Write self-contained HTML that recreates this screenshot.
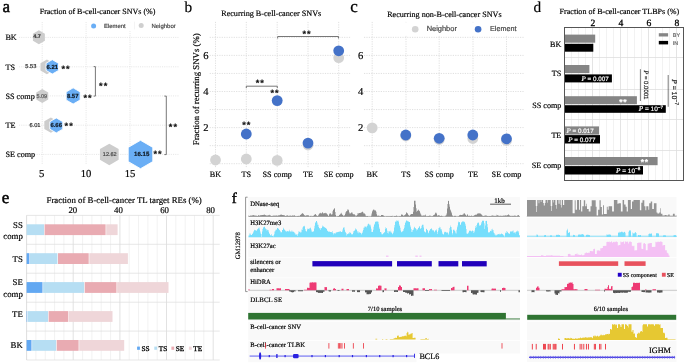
<!DOCTYPE html>
<html><head><meta charset="utf-8"><title>figure</title><style>
html,body{margin:0;padding:0;background:#fff;width:685px;height:364px;overflow:hidden}
svg{display:block;will-change:transform;text-rendering:geometricPrecision}
</style></head><body>
<svg font-family="Liberation Serif" width="685" height="364" viewBox="0 0 685 364">
<text stroke="#000" x="2.6" y="11.6" font-size="17" stroke-width="0.5" font-family="Liberation Serif">a</text>
<text stroke="#000" stroke-width="0.18" x="184.6" y="11.6" font-size="15.3" font-family="Liberation Serif">b</text>
<text stroke="#000" x="350.2" y="11.9" font-size="17" stroke-width="0.3" font-family="Liberation Serif">c</text>
<text stroke="#000" stroke-width="0.18" x="533.4" y="11.6" font-size="15.3" font-family="Liberation Serif">d</text>
<text stroke="#000" x="1.7" y="203.2" font-size="17" stroke-width="0.5" font-family="Liberation Serif">e</text>
<text stroke="#000" x="231.8" y="202.7" font-size="15" stroke-width="0.45" font-family="Liberation Serif">f</text>
<text stroke="#000" stroke-width="0.18" x="39.7" y="14.2" font-size="8.03" font-family="Liberation Serif">Fraction of B-cell-cancer SNVs (%)</text>
<line x1="42.2" y1="22" x2="42.2" y2="164.5" stroke="#dcdcdc" stroke-width="0.7" stroke-dasharray="1.1,1.1"/>
<line x1="86.1" y1="22" x2="86.1" y2="164.5" stroke="#dcdcdc" stroke-width="0.7" stroke-dasharray="1.1,1.1"/>
<line x1="130.0" y1="22" x2="130.0" y2="164.5" stroke="#dcdcdc" stroke-width="0.7" stroke-dasharray="1.1,1.1"/>
<line x1="19" y1="37.4" x2="179" y2="37.4" stroke="#dcdcdc" stroke-width="0.7" stroke-dasharray="1.1,1.1"/>
<line x1="19" y1="66.8" x2="179" y2="66.8" stroke="#dcdcdc" stroke-width="0.7" stroke-dasharray="1.1,1.1"/>
<line x1="19" y1="95.9" x2="179" y2="95.9" stroke="#dcdcdc" stroke-width="0.7" stroke-dasharray="1.1,1.1"/>
<line x1="19" y1="125.2" x2="179" y2="125.2" stroke="#dcdcdc" stroke-width="0.7" stroke-dasharray="1.1,1.1"/>
<line x1="19" y1="154.4" x2="179" y2="154.4" stroke="#dcdcdc" stroke-width="0.7" stroke-dasharray="1.1,1.1"/>
<rect x="89" y="22.2" width="91" height="8.6" fill="#fff"/>
<line x1="134.5" y1="21.6" x2="134.5" y2="29.4" stroke="#ececec" stroke-width="0.6"/>
<circle cx="93.6" cy="26" r="2.5" fill="#6aaef5"/>
<text stroke="#444" stroke-width="0.18" x="104" y="28" font-size="5.9" fill="#444" font-family="Liberation Sans">Element</text>
<circle cx="141.2" cy="25.6" r="2.5" fill="#cfcfcf"/>
<text stroke="#444" stroke-width="0.18" x="151.4" y="28" font-size="6.0" fill="#444" font-family="Liberation Sans">Neighbor</text>
<text stroke="#000" stroke-width="0.18" x="5.4" y="40.3" font-size="8.2" font-family="Liberation Serif">BK</text>
<text stroke="#000" stroke-width="0.18" x="5.4" y="69.7" font-size="8.2" font-family="Liberation Serif">TS</text>
<text stroke="#000" stroke-width="0.18" x="5.4" y="98.8" font-size="8.2" font-family="Liberation Serif">SS comp</text>
<text stroke="#000" stroke-width="0.18" x="5.4" y="128.1" font-size="8.2" font-family="Liberation Serif">TE</text>
<text stroke="#000" stroke-width="0.18" x="5.4" y="157.3" font-size="8.2" font-family="Liberation Serif">SE comp</text>
<polygon points="38.90,30.35 44.88,33.80 44.88,40.70 38.90,44.15 32.92,40.70 32.92,33.80" fill="#cdcdcd"/>
<polygon points="46.90,59.45 53.31,63.15 53.31,70.55 46.90,74.25 40.49,70.55 40.49,63.15" fill="#cdcdcd"/>
<polygon points="52.30,59.65 58.54,63.25 58.54,70.45 52.30,74.05 46.06,70.45 46.06,63.25" fill="#6aaef5" stroke="#fff" stroke-width="0.9"/>
<polygon points="42.25,89.10 48.23,92.55 48.23,99.45 42.25,102.90 36.27,99.45 36.27,92.55" fill="#cdcdcd"/>
<polygon points="73.15,87.85 80.16,91.90 80.16,100.00 73.15,104.05 66.14,100.00 66.14,91.90" fill="#6aaef5" stroke="#fff" stroke-width="0.9"/>
<polygon points="50.90,117.50 57.48,121.30 57.48,128.90 50.90,132.70 44.32,128.90 44.32,121.30" fill="#cdcdcd"/>
<polygon points="56.30,117.90 62.80,121.65 62.80,129.15 56.30,132.90 49.80,129.15 49.80,121.65" fill="#6aaef5" stroke="#fff" stroke-width="0.9"/>
<polygon points="109.30,143.65 118.65,149.05 118.65,159.85 109.30,165.25 99.95,159.85 99.95,149.05" fill="#cdcdcd"/>
<polygon points="140.50,140.30 152.80,147.40 152.80,161.60 140.50,168.70 128.20,161.60 128.20,147.40" fill="#6aaef5" stroke="#fff" stroke-width="0.9"/>
<text stroke="#3a3a3a" stroke-width="0.18" x="33.2" y="38.0" font-size="5.5" fill="#3a3a3a" text-anchor="start" font-weight="bold" font-family="Liberation Sans">4.7</text>
<text stroke="#2a2a2a" stroke-width="0.18" x="36.3" y="68.2" font-size="5.7" fill="#2a2a2a" text-anchor="end" font-family="Liberation Sans">5.53</text>
<text stroke="#101820" stroke-width="0.18" x="52.25" y="68.8" font-size="5.9" fill="#101820" text-anchor="middle" font-weight="bold" font-family="Liberation Sans">6.21</text>
<text stroke="#555" stroke-width="0.18" x="41.8" y="97.6" font-size="5.5" fill="#555" text-anchor="middle" font-family="Liberation Sans">5.09</text>
<text stroke="#101820" stroke-width="0.18" x="72.7" y="97.8" font-size="5.9" fill="#101820" text-anchor="middle" font-weight="bold" font-family="Liberation Sans">8.57</text>
<text stroke="#2a2a2a" stroke-width="0.18" x="40.5" y="126.6" font-size="5.7" fill="#2a2a2a" text-anchor="end" font-family="Liberation Sans">6.01</text>
<text stroke="#101820" stroke-width="0.18" x="56.2" y="127.3" font-size="5.9" fill="#101820" text-anchor="middle" font-weight="bold" font-family="Liberation Sans">6.66</text>
<text stroke="#444" stroke-width="0.18" x="109.75" y="155.9" font-size="5.5" fill="#444" text-anchor="middle" font-family="Liberation Sans">12.62</text>
<text stroke="#101820" stroke-width="0.18" x="141.65" y="156.4" font-size="6.1" fill="#101820" text-anchor="middle" font-weight="bold" font-family="Liberation Sans">16.15</text>
<text stroke="#111" stroke-width="0.18" x="66.1" y="72.123" font-size="9.2" font-weight="bold" fill="#111" text-anchor="middle" letter-spacing="1.0" font-family="Liberation Sans">**</text>
<text stroke="#111" stroke-width="0.18" x="88.1" y="100.82300000000001" font-size="9.2" font-weight="bold" fill="#111" text-anchor="middle" letter-spacing="1.0" font-family="Liberation Sans">**</text>
<text stroke="#111" stroke-width="0.18" x="69.2" y="128.623" font-size="9.2" font-weight="bold" fill="#111" text-anchor="middle" letter-spacing="1.0" font-family="Liberation Sans">**</text>
<text stroke="#111" stroke-width="0.18" x="158.1" y="157.123" font-size="9.2" font-weight="bold" fill="#111" text-anchor="middle" letter-spacing="1.0" font-family="Liberation Sans">**</text>
<text stroke="#111" stroke-width="0.18" x="103.7" y="88.82300000000001" font-size="9.2" font-weight="bold" fill="#111" text-anchor="middle" letter-spacing="1.0" font-family="Liberation Sans">**</text>
<text stroke="#111" stroke-width="0.18" x="173.4" y="129.623" font-size="9.2" font-weight="bold" fill="#111" text-anchor="middle" letter-spacing="1.0" font-family="Liberation Sans">**</text>
<path d="M93.6,66.6 H95.4 V96.1 H93.6" fill="none" stroke="#555" stroke-width="0.8"/>
<path d="M164.4,96.1 H166.3 V154.6 H164.4" fill="none" stroke="#555" stroke-width="0.8"/>
<text stroke="#000" stroke-width="0.18" x="41.6" y="177.3" font-size="10.6" text-anchor="middle" font-family="Liberation Serif">5</text>
<text stroke="#000" stroke-width="0.18" x="86.1" y="177.3" font-size="10.6" text-anchor="middle" font-family="Liberation Serif">10</text>
<text stroke="#000" stroke-width="0.18" x="130.0" y="177.3" font-size="10.6" text-anchor="middle" font-family="Liberation Serif">15</text>
<text stroke="#000" stroke-width="0.18" x="221.2" y="16.1" font-size="8.16" font-family="Liberation Serif">Recurring B-cell-cancer SNVs</text>
<line x1="209.7" y1="163.70" x2="350.4" y2="163.70" stroke="#d8d8d8" stroke-width="0.8" stroke-dasharray="1.2,1.2"/>
<line x1="209.7" y1="145.65" x2="350.4" y2="145.65" stroke="#d8d8d8" stroke-width="0.8" stroke-dasharray="1.2,1.2"/>
<line x1="209.7" y1="127.60" x2="350.4" y2="127.60" stroke="#d8d8d8" stroke-width="0.8" stroke-dasharray="1.2,1.2"/>
<line x1="209.7" y1="109.55" x2="350.4" y2="109.55" stroke="#d8d8d8" stroke-width="0.8" stroke-dasharray="1.2,1.2"/>
<line x1="209.7" y1="91.50" x2="350.4" y2="91.50" stroke="#d8d8d8" stroke-width="0.8" stroke-dasharray="1.2,1.2"/>
<line x1="209.7" y1="73.45" x2="350.4" y2="73.45" stroke="#d8d8d8" stroke-width="0.8" stroke-dasharray="1.2,1.2"/>
<line x1="209.7" y1="55.40" x2="350.4" y2="55.40" stroke="#d8d8d8" stroke-width="0.8" stroke-dasharray="1.2,1.2"/>
<line x1="209.7" y1="37.35" x2="350.4" y2="37.35" stroke="#d8d8d8" stroke-width="0.8" stroke-dasharray="1.2,1.2"/>
<line x1="215.5" y1="21.9" x2="215.5" y2="167.7" stroke="#d8d8d8" stroke-width="0.8" stroke-dasharray="1.2,1.2"/>
<line x1="246.3" y1="21.9" x2="246.3" y2="167.7" stroke="#d8d8d8" stroke-width="0.8" stroke-dasharray="1.2,1.2"/>
<line x1="277.2" y1="21.9" x2="277.2" y2="167.7" stroke="#d8d8d8" stroke-width="0.8" stroke-dasharray="1.2,1.2"/>
<line x1="308.0" y1="21.9" x2="308.0" y2="167.7" stroke="#d8d8d8" stroke-width="0.8" stroke-dasharray="1.2,1.2"/>
<line x1="338.7" y1="21.9" x2="338.7" y2="167.7" stroke="#d8d8d8" stroke-width="0.8" stroke-dasharray="1.2,1.2"/>
<text stroke="#000" stroke-width="0.18" x="205.9" y="131.2" font-size="10.6" text-anchor="middle" font-family="Liberation Serif">2</text>
<text stroke="#000" stroke-width="0.18" x="205.9" y="95.1" font-size="10.6" text-anchor="middle" font-family="Liberation Serif">4</text>
<text stroke="#000" stroke-width="0.18" x="205.9" y="59.0" font-size="10.6" text-anchor="middle" font-family="Liberation Serif">6</text>
<text stroke="#000" stroke-width="0.18" transform="translate(199,145.2) rotate(-90)" x="0" y="0" font-size="8.8" font-family="Liberation Serif">Fraction of recurring SNVs (%)</text>
<text stroke="#000" stroke-width="0.18" x="215.5" y="176.6" font-size="8.2" text-anchor="middle" font-family="Liberation Serif">BK</text>
<text stroke="#000" stroke-width="0.18" x="246.3" y="176.6" font-size="8.2" text-anchor="middle" font-family="Liberation Serif">TS</text>
<text stroke="#000" stroke-width="0.18" x="277.2" y="176.6" font-size="8.2" text-anchor="middle" font-family="Liberation Serif">SS comp</text>
<text stroke="#000" stroke-width="0.18" x="308.0" y="176.6" font-size="8.2" text-anchor="middle" font-family="Liberation Serif">TE</text>
<text stroke="#000" stroke-width="0.18" x="338.7" y="176.6" font-size="8.2" text-anchor="middle" font-family="Liberation Serif">SE comp</text>
<circle cx="215.5" cy="160" r="5.4" fill="#d3d3d3"/>
<circle cx="246.3" cy="159" r="5.4" fill="#d3d3d3"/>
<circle cx="277.2" cy="160.4" r="5.4" fill="#d3d3d3"/>
<circle cx="308" cy="145" r="5.4" fill="#d3d3d3"/>
<circle cx="338.7" cy="57.7" r="5.4" fill="#d3d3d3"/>
<circle cx="246.3" cy="134" r="5.4" fill="#4472c8"/>
<circle cx="277.2" cy="100.6" r="5.4" fill="#4472c8"/>
<circle cx="308" cy="143.1" r="5.4" fill="#4472c8"/>
<circle cx="338.7" cy="50.8" r="5.4" fill="#4472c8"/>
<text stroke="#111" stroke-width="0.18" x="246.8" y="128.123" font-size="9.2" font-weight="bold" fill="#111" text-anchor="middle" letter-spacing="1.0" font-family="Liberation Sans">**</text>
<text stroke="#111" stroke-width="0.18" x="275.0" y="96.123" font-size="9.2" font-weight="bold" fill="#111" text-anchor="middle" letter-spacing="1.0" font-family="Liberation Sans">**</text>
<path d="M246.3,88.2 V86.2 H277.3 V88.2" fill="none" stroke="#555" stroke-width="0.8"/>
<text stroke="#111" stroke-width="0.18" x="260.3" y="85.923" font-size="9.2" font-weight="bold" fill="#111" text-anchor="middle" letter-spacing="1.0" font-family="Liberation Sans">**</text>
<path d="M277.7,38.5 V36.5 H338.5 V38.5" fill="none" stroke="#555" stroke-width="0.8"/>
<text stroke="#111" stroke-width="0.18" x="307.0" y="37.323" font-size="9.2" font-weight="bold" fill="#111" text-anchor="middle" letter-spacing="1.0" font-family="Liberation Sans">**</text>
<text stroke="#000" stroke-width="0.18" x="387.2" y="16.9" font-size="8.12" font-family="Liberation Serif">Recurring non-B-cell-cancer SNVs</text>
<line x1="364" y1="163.70" x2="523.8" y2="163.70" stroke="#d8d8d8" stroke-width="0.8" stroke-dasharray="1.2,1.2"/>
<line x1="364" y1="145.65" x2="523.8" y2="145.65" stroke="#d8d8d8" stroke-width="0.8" stroke-dasharray="1.2,1.2"/>
<line x1="364" y1="127.60" x2="523.8" y2="127.60" stroke="#d8d8d8" stroke-width="0.8" stroke-dasharray="1.2,1.2"/>
<line x1="364" y1="109.55" x2="523.8" y2="109.55" stroke="#d8d8d8" stroke-width="0.8" stroke-dasharray="1.2,1.2"/>
<line x1="364" y1="91.50" x2="523.8" y2="91.50" stroke="#d8d8d8" stroke-width="0.8" stroke-dasharray="1.2,1.2"/>
<line x1="364" y1="73.45" x2="523.8" y2="73.45" stroke="#d8d8d8" stroke-width="0.8" stroke-dasharray="1.2,1.2"/>
<line x1="364" y1="55.40" x2="523.8" y2="55.40" stroke="#d8d8d8" stroke-width="0.8" stroke-dasharray="1.2,1.2"/>
<line x1="364" y1="37.35" x2="523.8" y2="37.35" stroke="#d8d8d8" stroke-width="0.8" stroke-dasharray="1.2,1.2"/>
<line x1="372.2" y1="21.9" x2="372.2" y2="167.7" stroke="#d8d8d8" stroke-width="0.8" stroke-dasharray="1.2,1.2"/>
<line x1="406.0" y1="21.9" x2="406.0" y2="167.7" stroke="#d8d8d8" stroke-width="0.8" stroke-dasharray="1.2,1.2"/>
<line x1="439.2" y1="21.9" x2="439.2" y2="167.7" stroke="#d8d8d8" stroke-width="0.8" stroke-dasharray="1.2,1.2"/>
<line x1="473.0" y1="21.9" x2="473.0" y2="167.7" stroke="#d8d8d8" stroke-width="0.8" stroke-dasharray="1.2,1.2"/>
<line x1="506.5" y1="21.9" x2="506.5" y2="167.7" stroke="#d8d8d8" stroke-width="0.8" stroke-dasharray="1.2,1.2"/>
<text stroke="#000" stroke-width="0.18" x="360.7" y="131.2" font-size="10.6" text-anchor="middle" font-family="Liberation Serif">2</text>
<text stroke="#000" stroke-width="0.18" x="360.7" y="95.1" font-size="10.6" text-anchor="middle" font-family="Liberation Serif">4</text>
<text stroke="#000" stroke-width="0.18" x="360.7" y="59.0" font-size="10.6" text-anchor="middle" font-family="Liberation Serif">6</text>
<text stroke="#000" stroke-width="0.18" x="372.2" y="176.6" font-size="8.2" text-anchor="middle" font-family="Liberation Serif">BK</text>
<text stroke="#000" stroke-width="0.18" x="406.0" y="176.6" font-size="8.2" text-anchor="middle" font-family="Liberation Serif">TS</text>
<text stroke="#000" stroke-width="0.18" x="439.2" y="176.6" font-size="8.2" text-anchor="middle" font-family="Liberation Serif">SS comp</text>
<text stroke="#000" stroke-width="0.18" x="473.0" y="176.6" font-size="8.2" text-anchor="middle" font-family="Liberation Serif">TE</text>
<text stroke="#000" stroke-width="0.18" x="506.5" y="176.6" font-size="8.2" text-anchor="middle" font-family="Liberation Serif">SE comp</text>
<rect x="404.5" y="22.4" width="119.5" height="12.6" fill="#fff"/>
<circle cx="415.2" cy="29.2" r="3.3" fill="#d3d3d3"/>
<text stroke="#444" stroke-width="0.18" x="426.7" y="31.3" font-size="7.45" fill="#444" font-family="Liberation Sans">Neighbor</text>
<circle cx="478.1" cy="29.2" r="3.3" fill="#4472c8"/>
<text stroke="#444" stroke-width="0.18" x="490" y="31.3" font-size="7.22" fill="#444" font-family="Liberation Sans">Element</text>
<circle cx="372.2" cy="127.9" r="5.4" fill="#d3d3d3"/>
<circle cx="405.8" cy="136" r="5.4" fill="#d3d3d3"/>
<circle cx="439.2" cy="139.5" r="5.4" fill="#d3d3d3"/>
<circle cx="472.8" cy="138.5" r="5.4" fill="#d3d3d3"/>
<circle cx="506.5" cy="140.5" r="5.4" fill="#d3d3d3"/>
<circle cx="405.8" cy="135" r="5.4" fill="#4472c8"/>
<circle cx="439.2" cy="138.3" r="5.4" fill="#4472c8"/>
<circle cx="472.8" cy="135" r="5.4" fill="#4472c8"/>
<circle cx="506.5" cy="138.8" r="5.4" fill="#4472c8"/>
<text stroke="#000" stroke-width="0.18" x="559.6" y="13.8" font-size="8.05" font-family="Liberation Serif">Fraction of B-cell-cancer TLBPs (%)</text>
<text stroke="#000" x="592.8" y="26.4" font-size="9.6" stroke-width="0.3" text-anchor="middle" font-family="Liberation Serif">2</text>
<text stroke="#000" x="620.8" y="26.4" font-size="9.6" stroke-width="0.3" text-anchor="middle" font-family="Liberation Serif">4</text>
<text stroke="#000" x="648.8" y="26.4" font-size="9.6" stroke-width="0.3" text-anchor="middle" font-family="Liberation Serif">6</text>
<text stroke="#000" x="676.8" y="26.4" font-size="9.6" stroke-width="0.3" text-anchor="middle" font-family="Liberation Serif">8</text>
<line x1="571.5" y1="28" x2="571.5" y2="180" stroke="#efefef" stroke-width="0.8"/>
<line x1="578.5" y1="28" x2="578.5" y2="180" stroke="#efefef" stroke-width="0.8"/>
<line x1="585.5" y1="28" x2="585.5" y2="180" stroke="#efefef" stroke-width="0.8"/>
<line x1="592.5" y1="28" x2="592.5" y2="180" stroke="#dddddd" stroke-width="0.8"/>
<line x1="599.5" y1="28" x2="599.5" y2="180" stroke="#efefef" stroke-width="0.8"/>
<line x1="606.5" y1="28" x2="606.5" y2="180" stroke="#efefef" stroke-width="0.8"/>
<line x1="613.5" y1="28" x2="613.5" y2="180" stroke="#efefef" stroke-width="0.8"/>
<line x1="620.5" y1="28" x2="620.5" y2="180" stroke="#dddddd" stroke-width="0.8"/>
<line x1="627.5" y1="28" x2="627.5" y2="180" stroke="#efefef" stroke-width="0.8"/>
<line x1="634.5" y1="28" x2="634.5" y2="180" stroke="#efefef" stroke-width="0.8"/>
<line x1="641.5" y1="28" x2="641.5" y2="180" stroke="#efefef" stroke-width="0.8"/>
<line x1="648.5" y1="28" x2="648.5" y2="180" stroke="#dddddd" stroke-width="0.8"/>
<line x1="655.5" y1="28" x2="655.5" y2="180" stroke="#efefef" stroke-width="0.8"/>
<line x1="662.5" y1="28" x2="662.5" y2="180" stroke="#efefef" stroke-width="0.8"/>
<line x1="669.5" y1="28" x2="669.5" y2="180" stroke="#efefef" stroke-width="0.8"/>
<line x1="676.5" y1="28" x2="676.5" y2="180" stroke="#dddddd" stroke-width="0.8"/>
<line x1="565" y1="57.5" x2="683" y2="57.5" stroke="#dedede" stroke-width="0.8"/>
<line x1="565" y1="89.5" x2="683" y2="89.5" stroke="#dedede" stroke-width="0.8"/>
<line x1="565" y1="119.5" x2="683" y2="119.5" stroke="#dedede" stroke-width="0.8"/>
<line x1="565" y1="150.5" x2="683" y2="150.5" stroke="#dedede" stroke-width="0.8"/>
<rect x="564.8" y="34.6" width="30.4" height="8.1" fill="#858585"/>
<rect x="564.8" y="43.8" width="28.5" height="7.9" fill="#000"/>
<rect x="564.8" y="65.0" width="24.6" height="8.1" fill="#858585"/>
<rect x="564.8" y="74.4" width="47.1" height="8.0" fill="#000"/>
<rect x="564.8" y="96.2" width="72.1" height="8.0" fill="#858585"/>
<rect x="564.8" y="105.2" width="101.0" height="7.6" fill="#000"/>
<rect x="564.8" y="126.4" width="34.2" height="8.2" fill="#858585"/>
<rect x="564.8" y="135.1" width="35.2" height="8.4" fill="#000"/>
<rect x="564.8" y="157.0" width="92.8" height="8.2" fill="#858585"/>
<rect x="564.8" y="166.1" width="78.2" height="8.4" fill="#000"/>
<rect x="564.5" y="27.5" width="119" height="153" fill="none" stroke="#555" stroke-width="1"/>
<text stroke="#000" stroke-width="0.18" x="561.3" y="46.6" font-size="8.1" text-anchor="end" font-family="Liberation Serif">BK</text>
<text stroke="#000" stroke-width="0.18" x="561.3" y="75.9" font-size="8.1" text-anchor="end" font-family="Liberation Serif">TS</text>
<text stroke="#000" stroke-width="0.18" x="561.3" y="107.6" font-size="8.1" text-anchor="end" font-family="Liberation Serif">SS comp</text>
<text stroke="#000" stroke-width="0.18" x="561.3" y="137.8" font-size="8.1" text-anchor="end" font-family="Liberation Serif">TE</text>
<text stroke="#000" stroke-width="0.18" x="561.3" y="168.4" font-size="8.1" text-anchor="end" font-family="Liberation Serif">SE comp</text>
<text stroke="#fff" stroke-width="0.18" x="608.8" y="80.6" font-size="6.3" fill="#fff" text-anchor="end" font-family="Liberation Sans"><tspan font-style="italic" font-family="Liberation Serif" font-size="7.0">P</tspan> = 0.007</text>
<text stroke="#fff" stroke-width="0.18" x="593.8" y="132.8" font-size="6.3" fill="#fff" text-anchor="end" font-family="Liberation Sans"><tspan font-style="italic" font-family="Liberation Serif" font-size="7.0">P</tspan> = 0.017</text>
<text stroke="#fff" stroke-width="0.18" x="595.4" y="141.6" font-size="6.3" fill="#fff" text-anchor="end" font-family="Liberation Sans"><tspan font-style="italic" font-family="Liberation Serif" font-size="7.0">P</tspan> = 0.077</text>
<text stroke="#fff" stroke-width="0.18" x="663" y="111.3" font-size="6.5" fill="#fff" text-anchor="end" font-family="Liberation Sans"><tspan font-style="italic" font-size="7.2" font-family="Liberation Serif">P</tspan> = 10<tspan font-size="4.6" dy="-2.6">−7</tspan></text>
<text stroke="#fff" stroke-width="0.18" x="640.3" y="172.9" font-size="6.5" fill="#fff" text-anchor="end" font-family="Liberation Sans"><tspan font-style="italic" font-size="7.2" font-family="Liberation Serif">P</tspan> = 10<tspan font-size="4.6" dy="-2.6">−8</tspan></text>
<text stroke="#fff" stroke-width="0.18" x="623.15" y="104.57124999999999" font-size="8.5" font-weight="bold" fill="#fff" text-anchor="middle" letter-spacing="0.5" font-family="Liberation Sans">**</text>
<text stroke="#fff" stroke-width="0.18" x="644.65" y="165.37125" font-size="8.5" font-weight="bold" fill="#fff" text-anchor="middle" letter-spacing="0.5" font-family="Liberation Sans">**</text>
<rect x="658.8" y="33.2" width="9.3" height="3.3" fill="#858585"/>
<rect x="658.8" y="40.9" width="9.3" height="3.5" fill="#000"/>
<text stroke="#666" stroke-width="0.18" x="672.8" y="36.8" font-size="5.4" fill="#666" font-family="Liberation Sans">BY</text>
<text stroke="#666" stroke-width="0.18" x="672.8" y="44.5" font-size="5.4" fill="#666" font-family="Liberation Sans">IN</text>
<line x1="640.4" y1="69.2" x2="640.4" y2="101" stroke="#444" stroke-width="0.7"/>
<line x1="668.2" y1="75" x2="668.2" y2="106.8" stroke="#444" stroke-width="0.7"/>
<text stroke="#222" stroke-width="0.18" transform="translate(644.2,70.2) rotate(90)" font-size="6.0" fill="#222" font-family="Liberation Sans"><tspan font-style="italic" font-size="6.6" font-family="Liberation Serif">P</tspan> = 0.0001</text>
<text stroke="#222" stroke-width="0.18" transform="translate(672.1,79.2) rotate(90)" font-size="6.9" fill="#222" font-family="Liberation Sans"><tspan font-style="italic" font-size="7.4" font-family="Liberation Serif">P</tspan> = 10<tspan font-size="5.2" dy="-2.7">−7</tspan></text>
<text stroke="#000" stroke-width="0.18" x="46.5" y="203.3" font-size="8.8" font-family="Liberation Serif">Fraction of B-cell-cancer TL target REs (%)</text>
<text stroke="#000" stroke-width="0.18" x="72.8" y="213.2" font-size="8.8" text-anchor="middle" font-family="Liberation Serif">20</text>
<text stroke="#000" stroke-width="0.18" x="118.5" y="213.2" font-size="8.8" text-anchor="middle" font-family="Liberation Serif">40</text>
<text stroke="#000" stroke-width="0.18" x="164.6" y="213.2" font-size="8.8" text-anchor="middle" font-family="Liberation Serif">60</text>
<text stroke="#000" stroke-width="0.18" x="210.6" y="213.2" font-size="8.8" text-anchor="middle" font-family="Liberation Serif">80</text>
<line x1="35.9" y1="215.4" x2="35.9" y2="360" stroke="#ececec" stroke-width="0.7"/>
<line x1="45.3" y1="215.4" x2="45.3" y2="360" stroke="#ececec" stroke-width="0.7"/>
<line x1="54.6" y1="215.4" x2="54.6" y2="360" stroke="#ececec" stroke-width="0.7"/>
<line x1="63.9" y1="215.4" x2="63.9" y2="360" stroke="#ececec" stroke-width="0.7"/>
<line x1="73.2" y1="215.4" x2="73.2" y2="360" stroke="#d6d6d6" stroke-width="0.7"/>
<line x1="82.6" y1="215.4" x2="82.6" y2="360" stroke="#ececec" stroke-width="0.7"/>
<line x1="91.9" y1="215.4" x2="91.9" y2="360" stroke="#ececec" stroke-width="0.7"/>
<line x1="101.2" y1="215.4" x2="101.2" y2="360" stroke="#ececec" stroke-width="0.7"/>
<line x1="110.6" y1="215.4" x2="110.6" y2="360" stroke="#ececec" stroke-width="0.7"/>
<line x1="119.9" y1="215.4" x2="119.9" y2="360" stroke="#d6d6d6" stroke-width="0.7"/>
<line x1="129.2" y1="215.4" x2="129.2" y2="360" stroke="#ececec" stroke-width="0.7"/>
<line x1="138.5" y1="215.4" x2="138.5" y2="360" stroke="#ececec" stroke-width="0.7"/>
<line x1="147.9" y1="215.4" x2="147.9" y2="360" stroke="#ececec" stroke-width="0.7"/>
<line x1="157.2" y1="215.4" x2="157.2" y2="360" stroke="#ececec" stroke-width="0.7"/>
<line x1="166.5" y1="215.4" x2="166.5" y2="360" stroke="#d6d6d6" stroke-width="0.7"/>
<line x1="175.8" y1="215.4" x2="175.8" y2="360" stroke="#ececec" stroke-width="0.7"/>
<line x1="185.2" y1="215.4" x2="185.2" y2="360" stroke="#ececec" stroke-width="0.7"/>
<line x1="194.5" y1="215.4" x2="194.5" y2="360" stroke="#ececec" stroke-width="0.7"/>
<line x1="203.8" y1="215.4" x2="203.8" y2="360" stroke="#ececec" stroke-width="0.7"/>
<line x1="213.2" y1="215.4" x2="213.2" y2="360" stroke="#d6d6d6" stroke-width="0.7"/>
<line x1="26.6" y1="215.4" x2="219.7" y2="215.4" stroke="#dcdcdc" stroke-width="0.7"/>
<line x1="26.6" y1="244.3" x2="219.7" y2="244.3" stroke="#dcdcdc" stroke-width="0.7"/>
<line x1="26.6" y1="273.2" x2="219.7" y2="273.2" stroke="#dcdcdc" stroke-width="0.7"/>
<line x1="26.6" y1="302.2" x2="219.7" y2="302.2" stroke="#dcdcdc" stroke-width="0.7"/>
<line x1="26.6" y1="331.1" x2="219.7" y2="331.1" stroke="#dcdcdc" stroke-width="0.7"/>
<line x1="26.6" y1="360.0" x2="219.7" y2="360.0" stroke="#dcdcdc" stroke-width="0.7"/>
<line x1="26.6" y1="215.4" x2="26.6" y2="360" stroke="#d0d0d0" stroke-width="0.7"/>
<rect x="26.60" y="224.3" width="17.40" height="10.8" fill="#b6def3"/>
<rect x="44.60" y="224.3" width="61.00" height="10.8" fill="#e9abb2"/>
<rect x="106.20" y="224.3" width="11.40" height="10.8" fill="#efd6d9"/>
<rect x="26.60" y="253.2" width="2.80" height="10.8" fill="#62a8f2"/>
<rect x="30.00" y="253.2" width="27.40" height="10.8" fill="#b6def3"/>
<rect x="58.00" y="253.2" width="30.70" height="10.8" fill="#e9abb2"/>
<rect x="89.30" y="253.2" width="38.60" height="10.8" fill="#efd6d9"/>
<rect x="26.60" y="282.1" width="15.90" height="10.8" fill="#62a8f2"/>
<rect x="43.10" y="282.1" width="41.00" height="10.8" fill="#b6def3"/>
<rect x="84.70" y="282.1" width="31.80" height="10.8" fill="#e9abb2"/>
<rect x="117.10" y="282.1" width="51.40" height="10.8" fill="#efd6d9"/>
<rect x="26.60" y="311.1" width="0.60" height="10.8" fill="#62a8f2"/>
<rect x="27.80" y="311.1" width="20.20" height="10.8" fill="#b6def3"/>
<rect x="48.60" y="311.1" width="19.70" height="10.8" fill="#e9abb2"/>
<rect x="68.90" y="311.1" width="43.60" height="10.8" fill="#efd6d9"/>
<rect x="26.60" y="340.0" width="4.90" height="10.8" fill="#62a8f2"/>
<rect x="32.10" y="340.0" width="24.00" height="10.8" fill="#b6def3"/>
<rect x="56.70" y="340.0" width="21.90" height="10.8" fill="#e9abb2"/>
<rect x="79.20" y="340.0" width="45.00" height="10.8" fill="#efd6d9"/>
<text stroke="#000" stroke-width="0.18" x="22.8" y="228.4" font-size="8.8" text-anchor="end" font-family="Liberation Serif">SS</text>
<text stroke="#000" stroke-width="0.18" x="22.8" y="239.4" font-size="8.8" text-anchor="end" font-family="Liberation Serif">comp</text>
<text stroke="#000" stroke-width="0.18" x="22.8" y="262.3" font-size="8.8" text-anchor="end" font-family="Liberation Serif">TS</text>
<text stroke="#000" stroke-width="0.18" x="22.8" y="285.3" font-size="8.8" text-anchor="end" font-family="Liberation Serif">SE</text>
<text stroke="#000" stroke-width="0.18" x="22.8" y="296.6" font-size="8.8" text-anchor="end" font-family="Liberation Serif">comp</text>
<text stroke="#000" stroke-width="0.18" x="22.8" y="317.3" font-size="8.8" text-anchor="end" font-family="Liberation Serif">TE</text>
<text stroke="#000" stroke-width="0.18" x="22.8" y="348.1" font-size="8.8" text-anchor="end" font-family="Liberation Serif">BK</text>
<rect x="137.1" y="346.6" width="2.8" height="3.2" fill="#62a8f2"/>
<text stroke="#000" x="141.5" y="350.7" font-size="7.3" stroke-width="0.3" font-family="Liberation Serif">SS</text>
<rect x="154.3" y="346.6" width="2.8" height="3.2" fill="#b6def3"/>
<text stroke="#000" x="158.7" y="350.7" font-size="7.3" stroke-width="0.3" font-family="Liberation Serif">TS</text>
<rect x="171.4" y="346.6" width="2.8" height="3.2" fill="#e9abb2"/>
<text stroke="#000" x="175.8" y="350.7" font-size="7.3" stroke-width="0.3" font-family="Liberation Serif">SE</text>
<rect x="188.9" y="346.6" width="2.8" height="3.2" fill="#efd6d9"/>
<text stroke="#000" x="193.3" y="350.7" font-size="7.3" stroke-width="0.3" font-family="Liberation Serif">TE</text>
<rect x="248.2" y="197" width="271.8" height="156.5" fill="#f9f9f9"/>
<rect x="527" y="197" width="149.5" height="165" fill="#f9f9f9"/>
<rect x="248.2" y="353.5" width="168.3" height="8.7" fill="#f9f9f9"/>
<line x1="248.2" y1="217.6" x2="520" y2="217.6" stroke="#fff" stroke-width="0.8"/>
<line x1="527" y1="217.6" x2="677.3" y2="217.6" stroke="#fff" stroke-width="0.8"/>
<line x1="248.2" y1="238.4" x2="520" y2="238.4" stroke="#fff" stroke-width="0.8"/>
<line x1="527" y1="238.4" x2="677.3" y2="238.4" stroke="#fff" stroke-width="0.8"/>
<line x1="248.2" y1="257.6" x2="520" y2="257.6" stroke="#fff" stroke-width="0.8"/>
<line x1="527" y1="257.6" x2="677.3" y2="257.6" stroke="#fff" stroke-width="0.8"/>
<line x1="248.2" y1="277.8" x2="520" y2="277.8" stroke="#fff" stroke-width="0.8"/>
<line x1="527" y1="277.8" x2="677.3" y2="277.8" stroke="#fff" stroke-width="0.8"/>
<line x1="248.2" y1="293.0" x2="520" y2="293.0" stroke="#fff" stroke-width="0.8"/>
<line x1="527" y1="293.0" x2="677.3" y2="293.0" stroke="#fff" stroke-width="0.8"/>
<line x1="248.2" y1="321.4" x2="520" y2="321.4" stroke="#fff" stroke-width="0.8"/>
<line x1="527" y1="321.4" x2="677.3" y2="321.4" stroke="#fff" stroke-width="0.8"/>
<line x1="248.2" y1="340.6" x2="520" y2="340.6" stroke="#fff" stroke-width="0.8"/>
<line x1="527" y1="340.6" x2="677.3" y2="340.6" stroke="#fff" stroke-width="0.8"/>
<path d="M247.6,197.2 H245.6 V291.6 H247.6" fill="none" stroke="#777" stroke-width="0.8"/>
<text stroke="#000" stroke-width="0.18" transform="translate(239.6,259.2) rotate(-90)" font-size="6.6" font-family="Liberation Serif">GM12878</text>
<text stroke="#000" stroke-width="0.18" x="250.2" y="206.4" font-size="6.66" font-family="Liberation Serif">DNase-seq</text>
<text stroke="#000" stroke-width="0.18" x="250.2" y="224.9" font-size="6.66" font-family="Liberation Serif">H3K27me3</text>
<text stroke="#000" stroke-width="0.18" x="250.2" y="248.0" font-size="6.66" font-family="Liberation Serif">H3K27ac</text>
<text stroke="#000" stroke-width="0.18" x="250.2" y="264.1" font-size="6.66" font-family="Liberation Serif">silencers or</text>
<text stroke="#000" stroke-width="0.18" x="250.2" y="272.0" font-size="6.66" font-family="Liberation Serif">enhancer</text>
<text stroke="#000" stroke-width="0.18" x="250.2" y="284.1" font-size="6.66" font-family="Liberation Serif">HiDRA</text>
<text stroke="#000" stroke-width="0.18" x="250.2" y="301.9" font-size="6.85" font-family="Liberation Serif">DLBCL SE</text>
<text stroke="#000" stroke-width="0.18" x="250.2" y="329.0" font-size="6.66" font-family="Liberation Serif">B-cell-cancer SNV</text>
<text stroke="#000" stroke-width="0.18" x="250.2" y="347.4" font-size="6.66" font-family="Liberation Serif">B-cell-cancer TLBK</text>
<path d="M248.5,216.5L248.5,215.5H249.0L249.0,216.0H249.5L249.5,215.9H250.0L250.0,215.5H250.5L250.5,215.7H251.0L251.0,215.6H251.5L251.5,215.7H252.0L252.0,215.7H252.5L252.5,215.1H253.0L253.0,214.9H253.5L253.5,215.3H254.0L254.0,215.2H254.5L254.5,215.8H255.0L255.0,215.4H255.5L255.5,215.7H256.0L256.0,215.9H256.5L256.5,215.5H257.0L257.0,216.0H257.5L257.5,215.9H258.0L258.0,215.3H258.5L258.5,215.2H259.0L259.0,215.5H259.5L259.5,215.8H260.0L260.0,215.3H260.5L260.5,215.2H261.0L261.0,215.3H261.5L261.5,215.0H262.0L262.0,215.1H262.5L262.5,215.1H263.0L263.0,215.1H263.5L263.5,214.8H264.0L264.0,214.7H264.5L264.5,214.6H265.0L265.0,215.1H265.5L265.5,215.3H266.0L266.0,215.3H266.5L266.5,215.8H267.0L267.0,215.5H267.5L267.5,215.4H268.0L268.0,215.0H268.5L268.5,215.4H269.0L269.0,215.2H269.5L269.5,214.7H270.0L270.0,215.2H270.5L270.5,215.8H271.0L271.0,215.9H271.5L271.5,216.0H272.0L272.0,215.7H272.5L272.5,215.9H273.0L273.0,215.8H273.5L273.5,215.5H274.0L274.0,215.6H274.5L274.5,215.8H275.0L275.0,215.8H275.5L275.5,215.6H276.0L276.0,215.7H276.5L276.5,215.3H277.0L277.0,215.5H277.5L277.5,216.0H278.0L278.0,215.6H278.5L278.5,215.2H279.0L279.0,215.3H279.5L279.5,215.2H280.0L280.0,214.9H280.5L280.5,214.5H281.0L281.0,214.6H281.5L281.5,214.7H282.0L282.0,215.0H282.5L282.5,214.9H283.0L283.0,215.0H283.5L283.5,215.3H284.0L284.0,215.3H284.5L284.5,215.5H285.0L285.0,215.9H285.5L285.5,216.0H286.0L286.0,215.7H286.5L286.5,215.5H287.0L287.0,215.3H287.5L287.5,215.5H288.0L288.0,215.9H288.5L288.5,215.7H289.0L289.0,215.6H289.5L289.5,215.9H290.0L290.0,215.5H290.5L290.5,215.7H291.0L291.0,216.0H291.5L291.5,215.7H292.0L292.0,215.5H292.5L292.5,215.4H293.0L293.0,215.5H293.5L293.5,215.7H294.0L294.0,215.1H294.5L294.5,215.8H295.0L295.0,216.0H295.5L295.5,216.2H296.0L296.0,216.2H296.5L296.5,216.2H297.0L297.0,216.0H297.5L297.5,216.0H298.0L298.0,215.9H298.5L298.5,215.7H299.0L299.0,216.3H299.5L299.5,215.8H300.0L300.0,215.0H300.5L300.5,214.8H301.0L301.0,214.2H301.5L301.5,213.7H302.0L302.0,213.3H302.5L302.5,213.2H303.0L303.0,213.7H303.5L303.5,214.3H304.0L304.0,215.0H304.5L304.5,215.4H305.0L305.0,216.1H305.5L305.5,215.4H306.0L306.0,215.2H306.5L306.5,215.4H307.0L307.0,215.3H307.5L307.5,215.3H308.0L308.0,215.3H308.5L308.5,215.4H309.0L309.0,216.3H309.5L309.5,216.4H310.0L310.0,216.0H310.5L310.5,215.8H311.0L311.0,215.7H311.5L311.5,216.4H312.0L312.0,216.2H312.5L312.5,215.9H313.0L313.0,216.0H313.5L313.5,215.4H314.0L314.0,214.9H314.5L314.5,214.4H315.0L315.0,213.9H315.5L315.5,214.2H316.0L316.0,215.0H316.5L316.5,215.8H317.0L317.0,216.1H317.5L317.5,216.0H318.0L318.0,215.6H318.5L318.5,214.4H319.0L319.0,213.7H319.5L319.5,213.2H320.0L320.0,212.8H320.5L320.5,213.3H321.0L321.0,213.8H321.5L321.5,213.1H322.0L322.0,212.4H322.5L322.5,212.3H323.0L323.0,213.3H323.5L323.5,213.4H324.0L324.0,213.2H324.5L324.5,213.1H325.0L325.0,213.3H325.5L325.5,212.7H326.0L326.0,213.3H326.5L326.5,213.6H327.0L327.0,214.2H327.5L327.5,214.8H328.0L328.0,216.1H328.5L328.5,215.8H329.0L329.0,214.3H329.5L329.5,213.5H330.0L330.0,213.2H330.5L330.5,213.5H331.0L331.0,214.1H331.5L331.5,214.9H332.0L332.0,214.2H332.5L332.5,211.2H333.0L333.0,210.0H333.5L333.5,209.2H334.0L334.0,208.2H334.5L334.5,208.5H335.0L335.0,211.9H335.5L335.5,214.9H336.0L336.0,216.4H336.5L336.5,216.5H337.0L337.0,216.3H337.5L337.5,216.2H338.0L338.0,215.9H338.5L338.5,216.0H339.0L339.0,214.9H339.5L339.5,214.8H340.0L340.0,214.2H340.5L340.5,213.4H341.0L341.0,212.7H341.5L341.5,213.7H342.0L342.0,214.4H342.5L342.5,215.0H343.0L343.0,215.6H343.5L343.5,216.2H344.0L344.0,215.8H344.5L344.5,215.1H345.0L345.0,213.8H345.5L345.5,212.3H346.0L346.0,211.6H346.5L346.5,211.1H347.0L347.0,210.5H347.5L347.5,209.2H348.0L348.0,209.5H348.5L348.5,210.2H349.0L349.0,212.3H349.5L349.5,213.5H350.0L350.0,213.6H350.5L350.5,213.3H351.0L351.0,212.5H351.5L351.5,212.5H352.0L352.0,212.6H352.5L352.5,213.8H353.0L353.0,214.2H353.5L353.5,214.2H354.0L354.0,214.3H354.5L354.5,214.6H355.0L355.0,215.1H355.5L355.5,216.5H356.0L356.0,216.1H356.5L356.5,215.3H357.0L357.0,214.9H357.5L357.5,213.3H358.0L358.0,213.4H358.5L358.5,213.2H359.0L359.0,212.9H359.5L359.5,213.0H360.0L360.0,212.7H360.5L360.5,213.1H361.0L361.0,212.5H361.5L361.5,212.2H362.0L362.0,211.4H362.5L362.5,211.9H363.0L363.0,212.6H363.5L363.5,213.4H364.0L364.0,213.5H364.5L364.5,213.5H365.0L365.0,214.3H365.5L365.5,215.8H366.0L366.0,216.3H366.5L366.5,216.0H367.0L367.0,216.0H367.5L367.5,216.0H368.0L368.0,216.5H368.5L368.5,216.5H369.0L369.0,216.5H369.5L369.5,216.4H370.0L370.0,216.5H370.5L370.5,216.5H371.0L371.0,215.8H371.5L371.5,213.5H372.0L372.0,211.5H372.5L372.5,210.5H373.0L373.0,209.8H373.5L373.5,209.6H374.0L374.0,209.8H374.5L374.5,210.4H375.0L375.0,210.3H375.5L375.5,210.7H376.0L376.0,211.8H376.5L376.5,214.3H377.0L377.0,215.4H377.5L377.5,215.9H378.0L378.0,215.6H378.5L378.5,215.7H379.0L379.0,216.3H379.5L379.5,215.8H380.0L380.0,216.0H380.5L380.5,215.9H381.0L381.0,214.9H381.5L381.5,214.9H382.0L382.0,215.1H382.5L382.5,215.1H383.0L383.0,215.5H383.5L383.5,215.4H384.0L384.0,216.4H384.5L384.5,216.1H385.0L385.0,216.5H385.5L385.5,216.5H386.0L386.0,216.2H386.5L386.5,216.2H387.0L387.0,216.4H387.5L387.5,216.1H388.0L388.0,216.5H388.5L388.5,216.0H389.0L389.0,215.9H389.5L389.5,216.5H390.0L390.0,216.1H390.5L390.5,216.3H391.0L391.0,216.1H391.5L391.5,215.9H392.0L392.0,215.8H392.5L392.5,216.5H393.0L393.0,216.5H393.5L393.5,216.5H394.0L394.0,216.0H394.5L394.5,215.9H395.0L395.0,216.1H395.5L395.5,216.0H396.0L396.0,215.5H396.5L396.5,215.7H397.0L397.0,216.3H397.5L397.5,216.2H398.0L398.0,216.4H398.5L398.5,216.3H399.0L399.0,216.2H399.5L399.5,216.1H400.0L400.0,216.2H400.5L400.5,216.1H401.0L401.0,214.5H401.5L401.5,214.4H402.0L402.0,214.6H402.5L402.5,215.0H403.0L403.0,215.5H403.5L403.5,215.9H404.0L404.0,215.4H404.5L404.5,214.9H405.0L405.0,214.7H405.5L405.5,213.9H406.0L406.0,212.7H406.5L406.5,212.2H407.0L407.0,212.9H407.5L407.5,213.7H408.0L408.0,214.7H408.5L408.5,215.3H409.0L409.0,216.0H409.5L409.5,215.6H410.0L410.0,214.8H410.5L410.5,214.4H411.0L411.0,213.9H411.5L411.5,213.9H412.0L412.0,214.1H412.5L412.5,213.9H413.0L413.0,211.8H413.5L413.5,207.1H414.0L414.0,201.1H414.5L414.5,200.6H415.0L415.0,200.8H415.5L415.5,204.6H416.0L416.0,208.3H416.5L416.5,211.8H417.0L417.0,210.9H417.5L417.5,210.6H418.0L418.0,209.5H418.5L418.5,210.2H419.0L419.0,210.7H419.5L419.5,211.3H420.0L420.0,212.7H420.5L420.5,214.2H421.0L421.0,214.8H421.5L421.5,216.0H422.0L422.0,215.4H422.5L422.5,216.0H423.0L423.0,215.4H423.5L423.5,215.6H424.0L424.0,216.0H424.5L424.5,215.1H425.0L425.0,214.4H425.5L425.5,215.6H426.0L426.0,216.2H426.5L426.5,216.3H427.0L427.0,216.1H427.5L427.5,216.2H428.0L428.0,215.9H428.5L428.5,216.1H429.0L429.0,215.8H429.5L429.5,215.4H430.0L430.0,215.5H430.5L430.5,216.3H431.0L431.0,216.3H431.5L431.5,216.2H432.0L432.0,216.2H432.5L432.5,216.1H433.0L433.0,215.4H433.5L433.5,215.1H434.0L434.0,214.7H434.5L434.5,214.4H435.0L435.0,213.3H435.5L435.5,212.4H436.0L436.0,212.7H436.5L436.5,213.7H437.0L437.0,215.3H437.5L437.5,215.9H438.0L438.0,215.4H438.5L438.5,215.1H439.0L439.0,215.0H439.5L439.5,216.0H440.0L440.0,216.1H440.5L440.5,215.9H441.0L441.0,215.8H441.5L441.5,215.8H442.0L442.0,216.0H442.5L442.5,216.4H443.0L443.0,216.4H443.5L443.5,216.5H444.0L444.0,216.4H444.5L444.5,216.5H445.0L445.0,216.3H445.5L445.5,215.5H446.0L446.0,215.2H446.5L446.5,213.5H447.0L447.0,208.6H447.5L447.5,204.1H448.0L448.0,200.8H448.5L448.5,201.1H449.0L449.0,204.2H449.5L449.5,206.7H450.0L450.0,209.4H450.5L450.5,210.4H451.0L451.0,211.7H451.5L451.5,213.2H452.0L452.0,215.2H452.5L452.5,215.8H453.0L453.0,216.3H453.5L453.5,216.4H454.0L454.0,215.9H454.5L454.5,215.7H455.0L455.0,215.8H455.5L455.5,216.1H456.0L456.0,216.5H456.5L456.5,216.5H457.0L457.0,216.5H457.5L457.5,216.5H458.0L458.0,216.4H458.5L458.5,216.1H459.0L459.0,215.6H459.5L459.5,215.1H460.0L460.0,215.0H460.5L460.5,214.8H461.0L461.0,214.9H461.5L461.5,215.1H462.0L462.0,214.6H462.5L462.5,215.0H463.0L463.0,214.6H463.5L463.5,213.6H464.0L464.0,213.2H464.5L464.5,213.4H465.0L465.0,214.4H465.5L465.5,214.7H466.0L466.0,216.1H466.5L466.5,215.4H467.0L467.0,214.2H467.5L467.5,214.7H468.0L468.0,215.8H468.5L468.5,215.9H469.0L469.0,215.4H469.5L469.5,216.0H470.0L470.0,216.1H470.5L470.5,215.9H471.0L471.0,215.8H471.5L471.5,215.6H472.0L472.0,216.0H472.5L472.5,216.2H473.0L473.0,215.7H473.5L473.5,215.9H474.0L474.0,215.5H474.5L474.5,215.1H475.0L475.0,214.9H475.5L475.5,214.5H476.0L476.0,214.8H476.5L476.5,214.4H477.0L477.0,213.5H477.5L477.5,213.8H478.0L478.0,213.6H478.5L478.5,213.3H479.0L479.0,213.4H479.5L479.5,213.3H480.0L480.0,213.7H480.5L480.5,213.4H481.0L481.0,214.1H481.5L481.5,214.9H482.0L482.0,215.2H482.5L482.5,216.0H483.0L483.0,216.0H483.5L483.5,216.1H484.0L484.0,215.7H484.5L484.5,215.7H485.0L485.0,215.9H485.5L485.5,215.0H486.0L486.0,215.5H486.5L486.5,215.7H487.0L487.0,216.0H487.5L487.5,216.1H488.0L488.0,216.1H488.5L488.5,216.2H489.0L489.0,215.9H489.5L489.5,215.9H490.0L490.0,216.1H490.5L490.5,216.1H491.0L491.0,215.9H491.5L491.5,215.6H492.0L492.0,215.5H492.5L492.5,215.5H493.0L493.0,216.1H493.5L493.5,215.6H494.0L494.0,216.0H494.5L494.5,215.8H495.0L495.0,216.0H495.5L495.5,215.8H496.0L496.0,215.9H496.5L496.5,214.7H497.0L497.0,214.9H497.5L497.5,215.5H498.0L498.0,215.5H498.5L498.5,215.8H499.0L499.0,215.8H499.5L499.5,215.9H500.0L500.0,215.6H500.5L500.5,215.9H501.0L501.0,215.9H501.5L501.5,215.8H502.0L502.0,215.8H502.5L502.5,215.9H503.0L503.0,215.8H503.5L503.5,215.6H504.0L504.0,215.7H504.5L504.5,215.5H505.0L505.0,215.4H505.5L505.5,215.3H506.0L506.0,215.4H506.5L506.5,215.4H507.0L507.0,215.3H507.5L507.5,214.9H508.0L508.0,214.2H508.5L508.5,214.8H509.0L509.0,214.9H509.5L509.5,215.7H510.0L510.0,215.8H510.5L510.5,216.1H511.0L511.0,216.2H511.5L511.5,215.8H512.0L512.0,215.7H512.5L512.5,216.0H513.0L513.0,215.9H513.5L513.5,215.8H514.0L514.0,215.6H514.5L514.5,215.8H515.0L515.0,215.8H515.5L515.5,215.8H516.0L516.0,216.2H516.5L516.5,216.0H517.0L517.0,215.8H517.5L517.5,215.2H518.0L518.0,214.9H518.5L518.5,215.2H519.0L519.0,216.1H519.5L519.5,216.2H519.9V216.5Z" fill="#8c8c8c"/>
<line x1="248.5" y1="216.4" x2="519.9" y2="216.4" stroke="#777" stroke-width="0.5"/>
<path d="M527,216.1L527.0,200.0H535.8L535.8,206.0H536.3L536.3,212.0H536.9L536.9,206.0H537.3L537.3,200.0H538.7L538.7,203.3H539.3L539.3,200.0H540.8L540.8,202.0H541.4L541.4,200.0H543.1L543.1,203.0H543.8L543.8,205.6H544.8L544.8,203.0H545.5L545.5,200.0H547.0L547.0,202.7H547.5L547.5,200.0H550.7L550.7,206.0H551.2L551.2,210.9H551.8L551.8,206.0H552.2L552.2,200.0H553.5L553.5,202.5H554.0L554.0,200.0H555.4L555.4,205.0H556.0L556.0,208.8H556.5L556.5,205.0H556.9L556.9,200.0H558.6L558.6,203.8H559.5L559.5,200.0H560.7L560.7,205.0H561.2L561.2,207.6H561.8L561.8,200.0H563.0L563.0,205.0H564.2L564.2,200.0H572.6L572.6,213.2H574.7L574.7,200.3H575.6L575.6,209.7H577.0L577.0,200.0H579.1L579.1,209.7H580.0L580.0,200.0H581.1L581.1,211.5H582.3L582.3,206.2H583.8L583.8,200.3H585.2L585.2,206.2H586.4L586.4,203.8H587.0L587.0,209.1H588.7L588.7,211.5H590.5L590.5,206.2H591.7L591.7,200.3H595.7L595.7,206.8H596.6L596.6,215.5H598.1L598.1,209.7H599.5L599.5,200.3H600.7L600.7,207.0H601.9L601.9,214.4H603.0L603.0,205.3H603.9L603.9,214.1H606.8L606.8,206.8H607.7L607.7,209.7H608.6L608.6,206.2H612.1L612.1,211.5H613.9L613.9,200.0H617.4L617.4,203.8H618.5L618.5,203.3H620.9L620.9,211.5H622.6L622.6,200.0H624.1L624.1,204.4H625.6L625.6,206.8H626.7L626.7,211.5H627.9L627.9,200.0H630.8L630.8,209.1H632.0L632.0,201.5H633.5L633.5,200.0H639.9L639.9,210.3H641.3L641.3,202.7H642.5L642.5,200.3H644.3L644.3,206.2H645.4L645.4,210.3H646.3L646.3,206.2H648.4L648.4,209.7H649.2L649.2,203.3H650.7L650.7,201.5H652.2L652.2,209.1H653.9L653.9,203.3H656.5L656.5,212.6H657.4L657.4,213.5H659.2L659.2,212.6H660.3L660.3,208.2H660.9L660.9,213.8H662.4L662.4,215.5H664.7L664.7,215.0H666.5L666.5,215.5H668.2L668.2,214.4H669.7L669.7,215.7H672.9L672.9,213.8H674.7L674.7,215.7H677.0V216.1Z" fill="#939393"/>
<line x1="526.8" y1="216.4" x2="676.7" y2="216.4" stroke="#777" stroke-width="0.5"/>
<line x1="490.1" y1="204.2" x2="511" y2="204.2" stroke="#333" stroke-width="0.8"/>
<text stroke="#000" stroke-width="0.18" x="499.6" y="202.7" font-size="7.0" text-anchor="middle" font-family="Liberation Serif">1kb</text>
<path d="M248.5,237.3L248.5,235.6H249.0L249.0,235.4H249.5L249.5,233.6H250.0L250.0,233.4H250.5L250.5,234.7H251.0L251.0,234.9H251.5L251.5,235.1H252.0L252.0,233.9H252.5L252.5,233.4H253.0L253.0,232.4H253.5L253.5,231.3H254.0L254.0,229.8H254.5L254.5,230.2H255.0L255.0,230.0H255.5L255.5,230.4H256.0L256.0,230.7H256.5L256.5,230.4H257.0L257.0,229.4H257.5L257.5,229.0H258.0L258.0,228.5H258.5L258.5,227.8H259.0L259.0,227.5H259.5L259.5,229.6H260.0L260.0,231.4H260.5L260.5,233.6H261.0L261.0,237.1H261.5L261.5,233.9H262.0L262.0,231.4H262.5L262.5,229.0H263.0L263.0,227.6H263.5L263.5,227.2H264.0L264.0,226.6H264.5L264.5,227.1H265.0L265.0,228.2H265.5L265.5,228.8H266.0L266.0,229.1H266.5L266.5,230.6H267.0L267.0,230.2H267.5L267.5,229.8H268.0L268.0,230.1H268.5L268.5,231.7H269.0L269.0,233.6H269.5L269.5,233.8H270.0L270.0,235.2H270.5L270.5,235.3H271.0L271.0,234.1H271.5L271.5,235.4H272.0L272.0,235.8H272.5L272.5,235.9H273.0L273.0,236.5H273.5L273.5,235.3H274.0L274.0,234.2H274.5L274.5,231.6H275.0L275.0,231.3H275.5L275.5,229.7H276.0L276.0,229.9H276.5L276.5,229.2H277.0L277.0,228.1H277.5L277.5,228.1H278.0L278.0,228.6H278.5L278.5,229.1H279.0L279.0,229.7H279.5L279.5,230.2H280.0L280.0,231.0H280.5L280.5,232.3H281.0L281.0,232.0H281.5L281.5,232.4H282.0L282.0,230.0H282.5L282.5,229.9H283.0L283.0,227.7H283.5L283.5,228.7H284.0L284.0,229.3H284.5L284.5,229.9H285.0L285.0,230.5H285.5L285.5,231.2H286.0L286.0,231.6H286.5L286.5,231.4H287.0L287.0,230.9H287.5L287.5,231.2H288.0L288.0,231.8H288.5L288.5,230.9H289.0L289.0,229.8H289.5L289.5,231.3H290.0L290.0,231.3H290.5L290.5,231.8H291.0L291.0,230.6H291.5L291.5,231.8H292.0L292.0,230.8H292.5L292.5,232.1H293.0L293.0,231.7H293.5L293.5,231.8H294.0L294.0,233.3H294.5L294.5,232.3H295.0L295.0,233.6H295.5L295.5,234.8H296.0L296.0,234.3H296.5L296.5,234.8H297.0L297.0,236.1H297.5L297.5,234.2H298.0L298.0,233.6H298.5L298.5,231.3H299.0L299.0,231.7H299.5L299.5,231.7H300.0L300.0,232.8H300.5L300.5,231.7H301.0L301.0,232.3H301.5L301.5,229.6H302.0L302.0,229.9H302.5L302.5,227.4H303.0L303.0,226.4H303.5L303.5,226.2H304.0L304.0,225.7H304.5L304.5,226.5H305.0L305.0,228.9H305.5L305.5,230.8H306.0L306.0,231.0H306.5L306.5,231.8H307.0L307.0,229.5H307.5L307.5,228.4H308.0L308.0,228.8H308.5L308.5,229.1H309.0L309.0,229.2H309.5L309.5,227.9H310.0L310.0,228.2H310.5L310.5,227.5H311.0L311.0,229.5H311.5L311.5,231.4H312.0L312.0,231.5H312.5L312.5,231.9H313.0L313.0,231.8H313.5L313.5,230.9H314.0L314.0,228.4H314.5L314.5,225.8H315.0L315.0,222.9H315.5L315.5,221.9H316.0L316.0,221.1H316.5L316.5,221.1H317.0L317.0,222.6H317.5L317.5,224.7H318.0L318.0,224.8H318.5L318.5,227.1H319.0L319.0,228.1H319.5L319.5,228.6H320.0L320.0,228.2H320.5L320.5,229.9H321.0L321.0,228.2H321.5L321.5,228.0H322.0L322.0,226.8H322.5L322.5,225.6H323.0L323.0,226.4H323.5L323.5,226.4H324.0L324.0,227.0H324.5L324.5,227.6H325.0L325.0,228.0H325.5L325.5,227.7H326.0L326.0,228.6H326.5L326.5,229.0H327.0L327.0,230.5H327.5L327.5,231.1H328.0L328.0,231.9H328.5L328.5,231.2H329.0L329.0,231.7H329.5L329.5,231.4H330.0L330.0,232.0H330.5L330.5,232.0H331.0L331.0,232.3H331.5L331.5,232.0H332.0L332.0,231.0H332.5L332.5,232.8H333.0L333.0,234.4H333.5L333.5,233.2H334.0L334.0,233.0H334.5L334.5,233.4H335.0L335.0,232.7H335.5L335.5,233.7H336.0L336.0,232.6H336.5L336.5,232.2H337.0L337.0,232.2H337.5L337.5,232.1H338.0L338.0,231.8H338.5L338.5,232.1H339.0L339.0,231.8H339.5L339.5,231.4H340.0L340.0,231.8H340.5L340.5,231.0H341.0L341.0,232.1H341.5L341.5,232.0H342.0L342.0,231.4H342.5L342.5,229.4H343.0L343.0,227.6H343.5L343.5,227.7H344.0L344.0,227.2H344.5L344.5,229.8H345.0L345.0,231.7H345.5L345.5,232.5H346.0L346.0,233.3H346.5L346.5,235.4H347.0L347.0,234.2H347.5L347.5,233.9H348.0L348.0,234.1H348.5L348.5,233.0H349.0L349.0,232.0H349.5L349.5,233.4H350.0L350.0,232.8H350.5L350.5,232.7H351.0L351.0,234.4H351.5L351.5,233.8H352.0L352.0,234.2H352.5L352.5,234.2H353.0L353.0,232.8H353.5L353.5,230.9H354.0L354.0,231.0H354.5L354.5,230.2H355.0L355.0,229.4H355.5L355.5,228.3H356.0L356.0,229.6H356.5L356.5,229.6H357.0L357.0,231.1H357.5L357.5,232.4H358.0L358.0,233.3H358.5L358.5,231.6H359.0L359.0,232.7H359.5L359.5,231.9H360.0L360.0,232.8H360.5L360.5,232.9H361.0L361.0,233.5H361.5L361.5,234.4H362.0L362.0,232.9H362.5L362.5,231.5H363.0L363.0,230.0H363.5L363.5,227.7H364.0L364.0,227.7H364.5L364.5,226.6H365.0L365.0,226.5H365.5L365.5,226.7H366.0L366.0,226.4H366.5L366.5,227.6H367.0L367.0,226.1H367.5L367.5,224.4H368.0L368.0,223.7H368.5L368.5,223.7H369.0L369.0,224.2H369.5L369.5,225.3H370.0L370.0,224.8H370.5L370.5,226.4H371.0L371.0,228.7H371.5L371.5,231.9H372.0L372.0,232.0H372.5L372.5,231.7H373.0L373.0,229.7H373.5L373.5,226.7H374.0L374.0,224.7H374.5L374.5,223.8H375.0L375.0,222.1H375.5L375.5,221.6H376.0L376.0,221.6H376.5L376.5,221.6H377.0L377.0,221.2H377.5L377.5,221.8H378.0L378.0,221.7H378.5L378.5,224.3H379.0L379.0,227.6H379.5L379.5,228.9H380.0L380.0,232.1H380.5L380.5,232.0H381.0L381.0,232.5H381.5L381.5,234.3H382.0L382.0,234.6H382.5L382.5,234.1H383.0L383.0,233.3H383.5L383.5,233.2H384.0L384.0,232.6H384.5L384.5,232.1H385.0L385.0,228.9H385.5L385.5,227.3H386.0L386.0,228.1H386.5L386.5,228.6H387.0L387.0,230.7H387.5L387.5,233.1H388.0L388.0,233.6H388.5L388.5,231.3H389.0L389.0,231.3H389.5L389.5,231.4H390.0L390.0,230.7H390.5L390.5,232.2H391.0L391.0,231.8H391.5L391.5,233.1H392.0L392.0,233.4H392.5L392.5,234.3H393.0L393.0,232.7H393.5L393.5,231.2H394.0L394.0,227.5H394.5L394.5,225.0H395.0L395.0,221.8H395.5L395.5,221.6H396.0L396.0,221.5H396.5L396.5,220.2H397.0L397.0,220.8H397.5L397.5,220.8H398.0L398.0,220.6H398.5L398.5,221.8H399.0L399.0,224.5H399.5L399.5,226.1H400.0L400.0,227.7H400.5L400.5,230.6H401.0L401.0,231.7H401.5L401.5,232.2H402.0L402.0,231.5H402.5L402.5,231.2H403.0L403.0,230.7H403.5L403.5,228.9H404.0L404.0,227.7H404.5L404.5,224.9H405.0L405.0,223.1H405.5L405.5,221.7H406.0L406.0,221.0H406.5L406.5,219.9H407.0L407.0,220.7H407.5L407.5,221.2H408.0L408.0,221.6H408.5L408.5,221.4H409.0L409.0,222.0H409.5L409.5,222.0H410.0L410.0,225.4H410.5L410.5,227.2H411.0L411.0,229.1H411.5L411.5,231.9H412.0L412.0,231.8H412.5L412.5,230.0H413.0L413.0,230.0H413.5L413.5,228.6H414.0L414.0,226.7H414.5L414.5,227.5H415.0L415.0,228.0H415.5L415.5,228.4H416.0L416.0,230.5H416.5L416.5,229.1H417.0L417.0,229.7H417.5L417.5,229.2H418.0L418.0,228.1H418.5L418.5,227.7H419.0L419.0,226.5H419.5L419.5,226.3H420.0L420.0,228.4H420.5L420.5,228.8H421.0L421.0,228.1H421.5L421.5,225.8H422.0L422.0,224.9H422.5L422.5,224.6H423.0L423.0,224.8H423.5L423.5,227.6H424.0L424.0,231.3H424.5L424.5,231.7H425.0L425.0,232.6H425.5L425.5,232.3H426.0L426.0,229.1H426.5L426.5,228.8H427.0L427.0,230.5H427.5L427.5,230.1H428.0L428.0,232.5H428.5L428.5,233.2H429.0L429.0,231.1H429.5L429.5,230.2H430.0L430.0,229.0H430.5L430.5,229.3H431.0L431.0,228.3H431.5L431.5,228.8H432.0L432.0,229.8H432.5L432.5,230.5H433.0L433.0,230.6H433.5L433.5,230.2H434.0L434.0,231.4H434.5L434.5,232.2H435.0L435.0,230.5H435.5L435.5,230.2H436.0L436.0,229.3H436.5L436.5,230.4H437.0L437.0,233.9H437.5L437.5,232.1H438.0L438.0,230.5H438.5L438.5,228.0H439.0L439.0,226.8H439.5L439.5,228.1H440.0L440.0,227.3H440.5L440.5,229.3H441.0L441.0,229.1H441.5L441.5,230.4H442.0L442.0,232.5H442.5L442.5,234.0H443.0L443.0,234.4H443.5L443.5,234.2H444.0L444.0,231.8H444.5L444.5,232.4H445.0L445.0,231.8H445.5L445.5,231.9H446.0L446.0,232.5H446.5L446.5,232.5H447.0L447.0,232.4H447.5L447.5,232.5H448.0L448.0,233.4H448.5L448.5,234.7H449.0L449.0,231.4H449.5L449.5,228.1H450.0L450.0,227.0H450.5L450.5,225.6H451.0L451.0,227.0H451.5L451.5,229.7H452.0L452.0,234.6H452.5L452.5,232.9H453.0L453.0,230.1H453.5L453.5,229.4H454.0L454.0,229.7H454.5L454.5,231.0H455.0L455.0,231.5H455.5L455.5,233.2H456.0L456.0,233.6H456.5L456.5,229.8H457.0L457.0,227.3H457.5L457.5,225.4H458.0L458.0,222.4H458.5L458.5,221.5H459.0L459.0,222.0H459.5L459.5,222.2H460.0L460.0,224.8H460.5L460.5,224.7H461.0L461.0,222.5H461.5L461.5,222.2H462.0L462.0,221.0H462.5L462.5,222.0H463.0L463.0,221.6H463.5L463.5,221.4H464.0L464.0,222.3H464.5L464.5,221.7H465.0L465.0,223.8H465.5L465.5,225.8H466.0L466.0,228.9H466.5L466.5,233.4H467.0L467.0,233.9H467.5L467.5,233.5H468.0L468.0,233.2H468.5L468.5,232.2H469.0L469.0,231.1H469.5L469.5,230.5H470.0L470.0,231.1H470.5L470.5,230.4H471.0L471.0,231.6H471.5L471.5,231.3H472.0L472.0,230.3H472.5L472.5,230.9H473.0L473.0,231.0H473.5L473.5,232.9H474.0L474.0,232.3H474.5L474.5,230.4H475.0L475.0,228.0H475.5L475.5,226.1H476.0L476.0,227.2H476.5L476.5,225.0H477.0L477.0,223.5H477.5L477.5,222.7H478.0L478.0,222.2H478.5L478.5,222.9H479.0L479.0,224.8H479.5L479.5,226.0H480.0L480.0,225.3H480.5L480.5,225.3H481.0L481.0,223.5H481.5L481.5,222.1H482.0L482.0,220.9H482.5L482.5,220.6H483.0L483.0,221.1H483.5L483.5,220.5H484.0L484.0,223.3H484.5L484.5,229.0H485.0L485.0,225.6H485.5L485.5,221.1H486.0L486.0,220.8H486.5L486.5,221.1H487.0L487.0,224.1H487.5L487.5,227.3H488.0L488.0,231.9H488.5L488.5,232.7H489.0L489.0,232.3H489.5L489.5,232.2H490.0L490.0,231.1H490.5L490.5,230.8H491.0L491.0,231.2H491.5L491.5,229.3H492.0L492.0,228.8H492.5L492.5,230.2H493.0L493.0,230.1H493.5L493.5,232.6H494.0L494.0,233.1H494.5L494.5,234.6H495.0L495.0,235.5H495.5L495.5,234.6H496.0L496.0,235.4H496.5L496.5,234.8H497.0L497.0,234.1H497.5L497.5,234.9H498.0L498.0,234.0H498.5L498.5,234.3H499.0L499.0,234.5H499.5L499.5,233.8H500.0L500.0,234.6H500.5L500.5,234.0H501.0L501.0,233.8H501.5L501.5,233.5H502.0L502.0,234.2H502.5L502.5,234.0H503.0L503.0,234.8H503.5L503.5,235.6H504.0L504.0,236.7H504.5L504.5,235.5H505.0L505.0,233.3H505.5L505.5,232.4H506.0L506.0,233.0H506.5L506.5,231.0H507.0L507.0,232.3H507.5L507.5,231.8H508.0L508.0,233.4H508.5L508.5,233.1H509.0L509.0,233.7H509.5L509.5,233.8H510.0L510.0,231.6H510.5L510.5,231.4H511.0L511.0,231.7H511.5L511.5,231.2H512.0L512.0,230.8H512.5L512.5,231.4H513.0L513.0,230.5H513.5L513.5,232.8H514.0L514.0,232.9H514.5L514.5,231.9H515.0L515.0,233.4H515.5L515.5,232.0H516.0L516.0,231.8H516.5L516.5,231.2H517.0L517.0,230.5H517.5L517.5,231.5H518.0L518.0,231.1H518.5L518.5,232.5H519.0L519.0,234.9H519.5L519.5,235.5H519.9V237.3Z" fill="#76defc"/>
<rect x="527" y="235.6" width="150" height="1.4" fill="#a6e6f8"/>
<path d="M527.00,236.90L527.00,236.90L527.50,236.90L527.50,236.90L528.00,236.90L528.00,236.90L528.50,236.90L528.50,236.90L529.00,236.90L529.00,236.90L529.50,236.90L529.50,236.90L530.00,236.90L530.00,236.90L530.50,236.90L530.50,236.90L531.00,236.90L531.00,236.90L531.50,236.90L531.50,236.90L532.00,236.90L532.00,236.90L532.50,236.90L532.50,236.90L533.00,236.90L533.00,236.90L533.50,236.90L533.50,236.90L534.00,236.90L534.00,236.90L534.50,236.90L534.50,236.90L535.00,236.90L535.00,236.90L535.50,236.90L535.50,236.90L536.00,236.90L536.00,236.90L536.50,236.90L536.50,234.58L537.00,234.58L537.00,234.81L537.50,234.81L537.50,234.68L538.00,234.68L538.00,236.90L538.50,236.90L538.50,236.90L539.00,236.90L539.00,236.90L539.50,236.90L539.50,236.90L540.00,236.90L540.00,236.90L540.50,236.90L540.50,236.90L541.00,236.90L541.00,236.90L541.50,236.90L541.50,236.90L542.00,236.90L542.00,236.90L542.50,236.90L542.50,236.90L543.00,236.90L543.00,236.90L543.50,236.90L543.50,236.90L544.00,236.90L544.00,235.34L544.50,235.34L544.50,235.36L545.00,235.36L545.00,235.04L545.50,235.04L545.50,235.01L546.00,235.01L546.00,236.90L546.50,236.90L546.50,236.90L547.00,236.90L547.00,236.90L547.50,236.90L547.50,236.90L548.00,236.90L548.00,236.90L548.50,236.90L548.50,236.90L549.00,236.90L549.00,236.90L549.50,236.90L549.50,236.90L550.00,236.90L550.00,235.48L550.50,235.48L550.50,235.15L551.00,235.15L551.00,235.13L551.50,235.13L551.50,235.57L552.00,235.57L552.00,236.90L552.50,236.90L552.50,236.90L553.00,236.90L553.00,236.90L553.50,236.90L553.50,236.90L554.00,236.90L554.00,236.90L554.50,236.90L554.50,236.90L555.00,236.90L555.00,236.90L555.50,236.90L555.50,236.90L556.00,236.90L556.00,234.84L556.50,234.84L556.50,235.10L557.00,235.10L557.00,234.84L557.50,234.84L557.50,234.96L558.00,234.96L558.00,234.61L558.50,234.61L558.50,234.96L559.00,234.96L559.00,235.12L559.50,235.12L559.50,234.88L560.00,234.88L560.00,236.90L560.50,236.90L560.50,236.90L561.00,236.90L561.00,236.90L561.50,236.90L561.50,236.90L562.00,236.90L562.00,236.90L562.50,236.90L562.50,236.90L563.00,236.90L563.00,236.90L563.50,236.90L563.50,236.90L564.00,236.90L564.00,236.90L564.50,236.90L564.50,236.90L565.00,236.90L565.00,236.90L565.50,236.90L565.50,236.90L566.00,236.90L566.00,236.90L566.50,236.90L566.50,230.45L567.00,230.45L567.00,230.27L567.50,230.27L567.50,228.76L568.00,228.76L568.00,233.11L568.50,233.11L568.50,232.87L569.00,232.87L569.00,232.44L569.50,232.44L569.50,232.05L570.00,232.05L570.00,236.90L570.50,236.90L570.50,236.90L571.00,236.90L571.00,236.90L571.50,236.90L571.50,236.90L572.00,236.90L572.00,236.90L572.50,236.90L572.50,236.90L573.00,236.90L573.00,235.12L573.50,235.12L573.50,234.84L574.00,234.84L574.00,235.02L574.50,235.02L574.50,235.13L575.00,235.13L575.00,236.90L575.50,236.90L575.50,236.90L576.00,236.90L576.00,236.90L576.50,236.90L576.50,236.90L577.00,236.90L577.00,236.90L577.50,236.90L577.50,236.90L578.00,236.90L578.00,234.62L578.50,234.62L578.50,234.80L579.00,234.80L579.00,234.34L579.50,234.34L579.50,234.70L580.00,234.70L580.00,234.39L580.50,234.39L580.50,234.81L581.00,234.81L581.00,234.76L581.50,234.76L581.50,234.08L582.00,234.08L582.00,234.12L582.50,234.12L582.50,234.19L583.00,234.19L583.00,234.84L583.50,234.84L583.50,234.38L584.00,234.38L584.00,236.90L584.50,236.90L584.50,236.90L585.00,236.90L585.00,236.90L585.50,236.90L585.50,236.90L586.00,236.90L586.00,234.95L586.50,234.95L586.50,234.72L587.00,234.72L587.00,234.87L587.50,234.87L587.50,234.78L588.00,234.78L588.00,234.75L588.50,234.75L588.50,234.92L589.00,234.92L589.00,234.92L589.50,234.92L589.50,235.15L590.00,235.15L590.00,236.90L590.50,236.90L590.50,236.90L591.00,236.90L591.00,236.90L591.50,236.90L591.50,236.90L592.00,236.90L592.00,236.90L592.50,236.90L592.50,236.90L593.00,236.90L593.00,236.90L593.50,236.90L593.50,236.90L594.00,236.90L594.00,236.90L594.50,236.90L594.50,236.90L595.00,236.90L595.00,236.90L595.50,236.90L595.50,236.90L596.00,236.90L596.00,236.90L596.50,236.90L596.50,236.90L597.00,236.90L597.00,236.90L597.50,236.90L597.50,236.90L598.00,236.90L598.00,236.90L598.50,236.90L598.50,236.90L599.00,236.90L599.00,236.90L599.50,236.90L599.50,236.90L600.00,236.90L600.00,236.90L600.50,236.90L600.50,236.90L601.00,236.90L601.00,236.90L601.50,236.90L601.50,236.90L602.00,236.90L602.00,236.90L602.50,236.90L602.50,236.90L603.00,236.90L603.00,236.90L603.50,236.90L603.50,236.90L604.00,236.90L604.00,236.90L604.50,236.90L604.50,236.90L605.00,236.90L605.00,236.90L605.50,236.90L605.50,236.90L606.00,236.90L606.00,236.90L606.50,236.90L606.50,234.59L607.00,234.59L607.00,234.81L607.50,234.81L607.50,234.75L608.00,234.75L608.00,234.86L608.50,234.86L608.50,234.58L609.00,234.58L609.00,234.14L609.50,234.14L609.50,234.75L610.00,234.75L610.00,234.84L610.50,234.84L610.50,234.79L611.00,234.79L611.00,236.90L611.50,236.90L611.50,236.90L612.00,236.90L612.00,236.90L612.50,236.90L612.50,236.90L613.00,236.90L613.00,236.90L613.50,236.90L613.50,236.90L614.00,236.90L614.00,236.90L614.50,236.90L614.50,236.90L615.00,236.90L615.00,236.90L615.50,236.90L615.50,236.90L616.00,236.90L616.00,236.90L616.50,236.90L616.50,236.90L617.00,236.90L617.00,236.90L617.50,236.90L617.50,236.90L618.00,236.90L618.00,232.42L618.50,232.42L618.50,232.66L619.00,232.66L619.00,231.84L619.50,231.84L619.50,232.85L620.00,232.85L620.00,232.43L620.50,232.43L620.50,231.96L621.00,231.96L621.00,231.60L621.50,231.60L621.50,232.07L622.00,232.07L622.00,232.33L622.50,232.33L622.50,231.64L623.00,231.64L623.00,232.80L623.50,232.80L623.50,232.16L624.00,232.16L624.00,231.74L624.50,231.74L624.50,231.98L625.00,231.98L625.00,232.75L625.50,232.75L625.50,236.90L626.00,236.90L626.00,236.90L626.50,236.90L626.50,236.90L627.00,236.90L627.00,236.90L627.50,236.90L627.50,236.90L628.00,236.90L628.00,236.90L628.50,236.90L628.50,231.66L629.00,231.66L629.00,229.89L629.50,229.89L629.50,231.11L630.00,231.11L630.00,229.90L630.50,229.90L630.50,231.33L631.00,231.33L631.00,236.90L631.50,236.90L631.50,236.90L632.00,236.90L632.00,236.90L632.50,236.90L632.50,232.49L633.00,232.49L633.00,233.29L633.50,233.29L633.50,233.44L634.00,233.44L634.00,232.74L634.50,232.74L634.50,233.47L635.00,233.47L635.00,232.46L635.50,232.46L635.50,232.11L636.00,232.11L636.00,232.88L636.50,232.88L636.50,236.90L637.00,236.90L637.00,236.90L637.50,236.90L637.50,236.90L638.00,236.90L638.00,235.02L638.50,235.02L638.50,235.11L639.00,235.11L639.00,235.23L639.50,235.23L639.50,235.35L640.00,235.35L640.00,235.09L640.50,235.09L640.50,235.02L641.00,235.02L641.00,236.90L641.50,236.90L641.50,236.90L642.00,236.90L642.00,236.90L642.50,236.90L642.50,236.90L643.00,236.90L643.00,236.90L643.50,236.90L643.50,236.90L644.00,236.90L644.00,236.90L644.50,236.90L644.50,236.90L645.00,236.90L645.00,236.90L645.50,236.90L645.50,236.90L646.00,236.90L646.00,236.90L646.50,236.90L646.50,236.90L647.00,236.90L647.00,236.90L647.50,236.90L647.50,236.90L648.00,236.90L648.00,236.90L648.50,236.90L648.50,234.02L649.00,234.02L649.00,233.37L649.50,233.37L649.50,234.12L650.00,234.12L650.00,234.05L650.50,234.05L650.50,233.44L651.00,233.44L651.00,233.54L651.50,233.54L651.50,233.61L652.00,233.61L652.00,236.90L652.50,236.90L652.50,236.90L653.00,236.90L653.00,236.90L653.50,236.90L653.50,236.90L654.00,236.90L654.00,236.90L654.50,236.90L654.50,236.90L655.00,236.90L655.00,236.90L655.50,236.90L655.50,236.90L656.00,236.90L656.00,233.35L656.50,233.35L656.50,233.29L657.00,233.29L657.00,233.24L657.50,233.24L657.50,233.32L658.00,233.32L658.00,233.74L658.50,233.74L658.50,233.17L659.00,233.17L659.00,236.90L659.50,236.90L659.50,236.90L660.00,236.90L660.00,236.90L660.50,236.90L660.50,236.90L661.00,236.90L661.00,236.90L661.50,236.90L661.50,236.90L662.00,236.90L662.00,236.90L662.50,236.90L662.50,236.90L663.00,236.90L663.00,235.25L663.50,235.25L663.50,235.41L664.00,235.41L664.00,235.14L664.50,235.14L664.50,235.17L665.00,235.17L665.00,235.56L665.50,235.56L665.50,235.30L666.00,235.30L666.00,236.90L666.50,236.90L666.50,236.90L667.00,236.90L667.00,236.90L667.50,236.90L667.50,236.90L668.00,236.90L668.00,236.90L668.50,236.90L668.50,236.90L669.00,236.90L669.00,236.90L669.50,236.90L669.50,236.90L670.00,236.90L670.00,236.90L670.50,236.90L670.50,236.90L671.00,236.90L671.00,236.90L671.50,236.90L671.50,236.90L672.00,236.90L672.00,236.90L672.50,236.90L672.50,236.90L673.00,236.90L673.00,236.90L673.50,236.90L673.50,235.31L674.00,235.31L674.00,235.01L674.50,235.01L674.50,235.24L675.00,235.24L675.00,235.33L675.50,235.33L675.50,235.01L676.00,235.01L676.00,236.90L676.50,236.90L676.50,236.90L677.00,236.90L677.00,236.90Z" fill="#76defc"/>
<path d="M527,257.0L527.0,255.9H527.8L527.8,255.9H528.6L528.6,255.9H529.5L529.5,255.9H530.3L530.3,255.9H531.1L531.1,255.9H531.9L531.9,255.9H532.8L532.8,255.9H533.6L533.6,255.9H534.4L534.4,255.9H535.2L535.2,255.9H536.1L536.1,255.9H536.9L536.9,255.9H537.7L537.7,255.9H538.5L538.5,255.9H539.4L539.4,255.9H540.2L540.2,255.9H541.0L541.0,255.2H541.8L541.8,255.3H542.7L542.7,255.6H543.5L543.5,255.9H544.3L544.3,255.9H545.2L545.2,255.9H546.0L546.0,255.6H546.8L546.8,255.6H547.7L547.7,255.6H548.5L548.5,255.6H549.3L549.3,255.6H550.2L550.2,255.6H551.0L551.0,255.3H552.0L552.0,255.4H553.0L553.0,255.8H553.9L553.9,255.8H554.8L554.8,255.8H555.6L555.6,255.8H556.5L556.5,255.8H557.4L557.4,255.8H558.2L558.2,255.8H559.1L559.1,255.8H560.0L560.0,256.1H560.9L560.9,256.1H561.8L561.8,256.1H562.6L562.6,256.1H563.5L563.5,256.5H564.4L564.4,256.5H565.3L565.3,256.5H566.1L566.1,256.5H567.0L567.0,256.5H567.9L567.9,254.0H568.8L568.8,253.7H569.6L569.6,254.0H570.5L570.5,255.6H571.4L571.4,255.6H572.3L572.3,255.6H573.1L573.1,255.6H574.0L574.0,255.6H574.9L574.9,254.1H575.8L575.8,254.2H576.6L576.6,253.6H577.5L577.5,254.7H578.4L578.4,254.5H579.2L579.2,255.1H580.1L580.1,255.0H581.0L581.0,254.4H581.9L581.9,255.3H582.8L582.8,255.3H583.6L583.6,255.0H584.5L584.5,253.2H585.4L585.4,252.7H586.3L586.3,252.6H587.1L587.1,253.1H588.0L588.0,252.7H588.9L588.9,252.8H589.8L589.8,251.1H590.7L590.7,250.9H591.5L591.5,251.3H592.4L592.4,251.3H593.3L593.3,249.1H594.1L594.1,248.8H595.0L595.0,254.1H595.9L595.9,253.9H596.8L596.8,250.6H597.7L597.7,250.4H598.5L598.5,250.3H599.4L599.4,250.9H600.3L600.3,248.3H601.2L601.2,248.2H602.0L602.0,248.0H602.9L602.9,245.9H603.8L603.8,245.8H604.6L604.6,245.9H605.5L605.5,245.7H606.4L606.4,242.0H607.2L607.2,241.7H608.0L608.0,242.1H608.8L608.8,241.6H609.6L609.6,242.2H610.4L610.4,242.1H611.2L611.2,241.3H612.0L612.0,242.7H612.8L612.8,242.1H613.6L613.6,241.7H614.5L614.5,242.2H615.3L615.3,241.7H616.1L616.1,241.4H617.0L617.0,241.9H617.8L617.8,245.5H618.7L618.7,245.0H619.5L619.5,244.9H620.4L620.4,241.6H621.3L621.3,242.2H622.2L622.2,242.0H623.1L623.1,241.4H624.0L624.0,243.7H624.8L624.8,241.4H625.6L625.6,241.4H626.4L626.4,242.0H627.2L627.2,241.5H628.0L628.0,243.5H628.8L628.8,241.7H629.8L629.8,241.5H630.8L630.8,242.0H631.8L631.8,245.7H632.7L632.7,246.2H633.5L633.5,245.7H634.4L634.4,250.4H635.3L635.3,250.2H636.2L636.2,250.2H637.1L637.1,243.0H638.0L638.0,242.8H638.8L638.8,242.4H639.7L639.7,242.9H640.5L640.5,242.3H641.4L641.4,248.7H642.3L642.3,249.1H643.2L643.2,243.6H644.1L644.1,243.1H644.9L644.9,243.9H645.8L645.8,250.2H646.7L646.7,250.2H647.6L647.6,243.7H648.5L648.5,243.3H649.3L649.3,243.3H650.2L650.2,243.1H651.0L651.0,243.1H651.9L651.9,247.0H652.8L652.8,246.7H653.6L653.6,247.0H654.5L654.5,246.8H655.4L655.4,241.7H656.3L656.3,242.2H657.2L657.2,241.7H658.1L658.1,241.8H659.0L659.0,242.1H659.8L659.8,241.5H660.7L660.7,241.4H661.6L661.6,242.1H662.5L662.5,245.5H663.4L663.4,245.0H664.2L664.2,245.0H665.1L665.1,250.2H666.0L666.0,250.3H666.8L666.8,252.7H667.7L667.7,253.4H668.6L668.6,255.5H669.5V257.0Z" fill="#f4c0f4"/>
<rect x="386" y="255.6" width="2.5" height="1.2" fill="#f4c0f4"/>
<rect x="415.3" y="255.6" width="2.5" height="1.2" fill="#f4c0f4"/>
<rect x="419.5" y="255.6" width="2.0" height="1.2" fill="#f4c0f4"/>
<rect x="312.4" y="261.1" width="79.7" height="5.3" fill="#2200bb"/>
<rect x="397" y="261.1" width="34.8" height="5.3" fill="#2200bb"/>
<rect x="438.5" y="261.1" width="19.8" height="5.3" fill="#2200bb"/>
<rect x="462" y="261.1" width="24.7" height="5.3" fill="#2200bb"/>
<rect x="558.9" y="261.3" width="59.3" height="4.6" fill="#e8525e"/>
<rect x="624.5" y="261.3" width="21.1" height="4.6" fill="#e8525e"/>
<rect x="617.8" y="272.8" width="3.9" height="3.9" fill="#2200c8"/>
<text stroke="#000" stroke-width="0.18" x="622.7" y="276.6" font-size="5.9" font-family="Liberation Serif">SS component</text>
<rect x="661.9" y="272.8" width="3.8" height="3.9" fill="#e8525e"/>
<text stroke="#000" stroke-width="0.18" x="667.1" y="276.6" font-size="5.9" font-family="Liberation Serif">SE</text>
<line x1="248.5" y1="290.3" x2="519.9" y2="290.3" stroke="#a8a8a8" stroke-width="0.6"/>
<line x1="527" y1="290.3" x2="677" y2="290.3" stroke="#a8a8a8" stroke-width="0.6"/>
<path d="M248.50,290.30L248.50,289.23L249.00,289.23L249.00,289.21L249.50,289.21L249.50,290.30L250.00,290.30L250.00,290.30L250.50,290.30L250.50,290.30L251.00,290.30L251.00,290.30L251.50,290.30L251.50,290.30L252.00,290.30L252.00,290.30L252.50,290.30L252.50,290.30L253.00,290.30L253.00,290.30L253.50,290.30L253.50,290.30L254.00,290.30L254.00,290.30L254.50,290.30L254.50,290.30L255.00,290.30L255.00,290.30L255.50,290.30L255.50,290.30L256.00,290.30L256.00,290.30L256.50,290.30L256.50,290.30L257.00,290.30L257.00,290.30L257.50,290.30L257.50,290.30L258.00,290.30L258.00,290.30L258.50,290.30L258.50,290.30L259.00,290.30L259.00,290.30L259.50,290.30L259.50,290.30L260.00,290.30L260.00,290.30L260.50,290.30L260.50,290.30L261.00,290.30L261.00,290.30L261.50,290.30L261.50,290.30L262.00,290.30L262.00,290.30L262.50,290.30L262.50,290.30L263.00,290.30L263.00,290.30L263.50,290.30L263.50,290.30L264.00,290.30L264.00,290.30L264.50,290.30L264.50,290.30L265.00,290.30L265.00,290.30L265.50,290.30L265.50,290.30L266.00,290.30L266.00,290.30L266.50,290.30L266.50,290.30L267.00,290.30L267.00,290.30L267.50,290.30L267.50,290.30L268.00,290.30L268.00,290.30L268.50,290.30L268.50,290.30L269.00,290.30L269.00,290.30L269.50,290.30L269.50,289.72L270.00,289.72L270.00,289.71L270.50,289.71L270.50,289.70L271.00,289.70L271.00,289.72L271.50,289.72L271.50,290.30L272.00,290.30L272.00,289.12L272.50,289.12L272.50,289.10L273.00,289.10L273.00,289.10L273.50,289.10L273.50,289.03L274.00,289.03L274.00,290.30L274.50,290.30L274.50,290.30L275.00,290.30L275.00,290.30L275.50,290.30L275.50,290.30L276.00,290.30L276.00,290.30L276.50,290.30L276.50,288.31L277.00,288.31L277.00,288.26L277.50,288.26L277.50,288.24L278.00,288.24L278.00,288.22L278.50,288.22L278.50,288.25L279.00,288.25L279.00,288.39L279.50,288.39L279.50,288.37L280.00,288.37L280.00,288.37L280.50,288.37L280.50,288.37L281.00,288.37L281.00,290.30L281.50,290.30L281.50,290.30L282.00,290.30L282.00,290.30L282.50,290.30L282.50,290.30L283.00,290.30L283.00,290.30L283.50,290.30L283.50,290.30L284.00,290.30L284.00,290.30L284.50,290.30L284.50,290.30L285.00,290.30L285.00,289.03L285.50,289.03L285.50,289.04L286.00,289.04L286.00,289.08L286.50,289.08L286.50,289.10L287.00,289.10L287.00,289.11L287.50,289.11L287.50,289.11L288.00,289.11L288.00,289.01L288.50,289.01L288.50,289.08L289.00,289.08L289.00,289.09L289.50,289.09L289.50,290.30L290.00,290.30L290.00,290.30L290.50,290.30L290.50,290.30L291.00,290.30L291.00,290.30L291.50,290.30L291.50,290.30L292.00,290.30L292.00,290.30L292.50,290.30L292.50,290.30L293.00,290.30L293.00,290.30L293.50,290.30L293.50,290.30L294.00,290.30L294.00,290.30L294.50,290.30L294.50,290.30L295.00,290.30L295.00,290.30L295.50,290.30L295.50,290.30L296.00,290.30L296.00,290.30L296.50,290.30L296.50,290.30L297.00,290.30L297.00,290.30L297.50,290.30L297.50,290.30L298.00,290.30L298.00,290.30L298.50,290.30L298.50,290.30L299.00,290.30L299.00,290.30L299.50,290.30L299.50,290.30L300.00,290.30L300.00,290.30L300.50,290.30L300.50,290.30L301.00,290.30L301.00,290.30L301.50,290.30L301.50,290.30L302.00,290.30L302.00,290.30L302.50,290.30L302.50,290.30L303.00,290.30L303.00,290.30L303.50,290.30L303.50,290.30L304.00,290.30L304.00,289.73L304.50,289.73L304.50,289.71L305.00,289.71L305.00,289.73L305.50,289.73L305.50,289.71L306.00,289.71L306.00,289.76L306.50,289.76L306.50,289.75L307.00,289.75L307.00,287.84L307.50,287.84L307.50,287.78L308.00,287.78L308.00,287.94L308.50,287.94L308.50,287.85L309.00,287.85L309.00,287.93L309.50,287.93L309.50,282.80L310.00,282.80L310.00,282.52L310.50,282.52L310.50,282.44L311.00,282.44L311.00,282.59L311.50,282.59L311.50,282.45L312.00,282.45L312.00,282.23L312.50,282.23L312.50,282.35L313.00,282.35L313.00,282.77L313.50,282.77L313.50,282.14L314.00,282.14L314.00,282.14L314.50,282.14L314.50,282.61L315.00,282.61L315.00,282.33L315.50,282.33L315.50,282.54L316.00,282.54L316.00,282.49L316.50,282.49L316.50,290.30L317.00,290.30L317.00,290.30L317.50,290.30L317.50,290.30L318.00,290.30L318.00,290.30L318.50,290.30L318.50,290.30L319.00,290.30L319.00,290.30L319.50,290.30L319.50,290.30L320.00,290.30L320.00,290.30L320.50,290.30L320.50,290.30L321.00,290.30L321.00,290.30L321.50,290.30L321.50,290.30L322.00,290.30L322.00,290.30L322.50,290.30L322.50,290.30L323.00,290.30L323.00,290.30L323.50,290.30L323.50,290.30L324.00,290.30L324.00,290.30L324.50,290.30L324.50,287.11L325.00,287.11L325.00,287.33L325.50,287.33L325.50,287.06L326.00,287.06L326.00,287.14L326.50,287.14L326.50,287.07L327.00,287.07L327.00,290.30L327.50,290.30L327.50,290.30L328.00,290.30L328.00,290.30L328.50,290.30L328.50,290.30L329.00,290.30L329.00,290.30L329.50,290.30L329.50,290.30L330.00,290.30L330.00,290.30L330.50,290.30L330.50,290.30L331.00,290.30L331.00,290.30L331.50,290.30L331.50,290.30L332.00,290.30L332.00,290.30L332.50,290.30L332.50,290.30L333.00,290.30L333.00,289.08L333.50,289.08L333.50,288.26L334.00,288.26L334.00,288.27L334.50,288.27L334.50,288.36L335.00,288.36L335.00,289.04L335.50,289.04L335.50,289.07L336.00,289.07L336.00,290.30L336.50,290.30L336.50,290.30L337.00,290.30L337.00,290.30L337.50,290.30L337.50,290.30L338.00,290.30L338.00,290.30L338.50,290.30L338.50,290.30L339.00,290.30L339.00,290.30L339.50,290.30L339.50,290.30L340.00,290.30L340.00,290.30L340.50,290.30L340.50,290.30L341.00,290.30L341.00,290.30L341.50,290.30L341.50,288.84L342.00,288.84L342.00,288.72L342.50,288.72L342.50,288.71L343.00,288.71L343.00,288.74L343.50,288.74L343.50,290.30L344.00,290.30L344.00,290.30L344.50,290.30L344.50,290.30L345.00,290.30L345.00,290.30L345.50,290.30L345.50,290.30L346.00,290.30L346.00,290.30L346.50,290.30L346.50,289.10L347.00,289.10L347.00,289.08L347.50,289.08L347.50,289.03L348.00,289.03L348.00,289.04L348.50,289.04L348.50,289.02L349.00,289.02L349.00,290.30L349.50,290.30L349.50,290.30L350.00,290.30L350.00,290.30L350.50,290.30L350.50,290.30L351.00,290.30L351.00,290.30L351.50,290.30L351.50,290.30L352.00,290.30L352.00,290.30L352.50,290.30L352.50,290.30L353.00,290.30L353.00,290.30L353.50,290.30L353.50,290.30L354.00,290.30L354.00,290.30L354.50,290.30L354.50,290.30L355.00,290.30L355.00,290.30L355.50,290.30L355.50,290.30L356.00,290.30L356.00,290.30L356.50,290.30L356.50,290.30L357.00,290.30L357.00,290.30L357.50,290.30L357.50,290.30L358.00,290.30L358.00,290.30L358.50,290.30L358.50,290.30L359.00,290.30L359.00,290.30L359.50,290.30L359.50,290.30L360.00,290.30L360.00,290.30L360.50,290.30L360.50,290.30L361.00,290.30L361.00,290.30L361.50,290.30L361.50,290.30L362.00,290.30L362.00,290.30L362.50,290.30L362.50,290.30L363.00,290.30L363.00,290.30L363.50,290.30L363.50,290.30L364.00,290.30L364.00,290.30L364.50,290.30L364.50,290.30L365.00,290.30L365.00,290.30L365.50,290.30L365.50,290.30L366.00,290.30L366.00,290.30L366.50,290.30L366.50,290.30L367.00,290.30L367.00,290.30L367.50,290.30L367.50,290.30L368.00,290.30L368.00,290.30L368.50,290.30L368.50,290.30L369.00,290.30L369.00,290.30L369.50,290.30L369.50,290.30L370.00,290.30L370.00,290.30L370.50,290.30L370.50,290.30L371.00,290.30L371.00,290.30L371.50,290.30L371.50,290.30L372.00,290.30L372.00,290.30L372.50,290.30L372.50,290.30L373.00,290.30L373.00,290.30L373.50,290.30L373.50,290.30L374.00,290.30L374.00,290.30L374.50,290.30L374.50,290.30L375.00,290.30L375.00,290.30L375.50,290.30L375.50,290.30L376.00,290.30L376.00,288.39L376.50,288.39L376.50,288.31L377.00,288.31L377.00,288.44L377.50,288.44L377.50,288.48L378.00,288.48L378.00,285.78L378.50,285.78L378.50,285.67L379.00,285.67L379.00,285.78L379.50,285.78L379.50,285.31L380.00,285.31L380.00,285.44L380.50,285.44L380.50,285.78L381.00,285.78L381.00,285.69L381.50,285.69L381.50,290.30L382.00,290.30L382.00,290.30L382.50,290.30L382.50,290.30L383.00,290.30L383.00,290.30L383.50,290.30L383.50,290.30L384.00,290.30L384.00,290.30L384.50,290.30L384.50,288.29L385.00,288.29L385.00,288.40L385.50,288.40L385.50,288.33L386.00,288.33L386.00,288.37L386.50,288.37L386.50,290.30L387.00,290.30L387.00,290.30L387.50,290.30L387.50,290.30L388.00,290.30L388.00,290.30L388.50,290.30L388.50,290.30L389.00,290.30L389.00,290.30L389.50,290.30L389.50,290.30L390.00,290.30L390.00,290.30L390.50,290.30L390.50,290.30L391.00,290.30L391.00,290.30L391.50,290.30L391.50,290.30L392.00,290.30L392.00,290.30L392.50,290.30L392.50,290.30L393.00,290.30L393.00,290.30L393.50,290.30L393.50,290.30L394.00,290.30L394.00,290.30L394.50,290.30L394.50,290.30L395.00,290.30L395.00,290.30L395.50,290.30L395.50,290.30L396.00,290.30L396.00,290.30L396.50,290.30L396.50,290.30L397.00,290.30L397.00,290.30L397.50,290.30L397.50,290.30L398.00,290.30L398.00,287.10L398.50,287.10L398.50,287.06L399.00,287.06L399.00,285.43L399.50,285.43L399.50,285.27L400.00,285.27L400.00,285.39L400.50,285.39L400.50,285.69L401.00,285.69L401.00,287.11L401.50,287.11L401.50,287.00L402.00,287.00L402.00,290.30L402.50,290.30L402.50,290.30L403.00,290.30L403.00,290.30L403.50,290.30L403.50,290.30L404.00,290.30L404.00,290.30L404.50,290.30L404.50,290.30L405.00,290.30L405.00,290.30L405.50,290.30L405.50,290.30L406.00,290.30L406.00,290.30L406.50,290.30L406.50,290.30L407.00,290.30L407.00,290.30L407.50,290.30L407.50,290.30L408.00,290.30L408.00,290.30L408.50,290.30L408.50,290.30L409.00,290.30L409.00,290.30L409.50,290.30L409.50,290.30L410.00,290.30L410.00,290.30L410.50,290.30L410.50,290.30L411.00,290.30L411.00,290.30L411.50,290.30L411.50,290.30L412.00,290.30L412.00,290.30L412.50,290.30L412.50,290.30L413.00,290.30L413.00,290.30L413.50,290.30L413.50,288.21L414.00,288.21L414.00,288.24L414.50,288.24L414.50,288.36L415.00,288.36L415.00,288.28L415.50,288.28L415.50,288.26L416.00,288.26L416.00,288.22L416.50,288.22L416.50,288.41L417.00,288.41L417.00,288.29L417.50,288.29L417.50,288.24L418.00,288.24L418.00,288.21L418.50,288.21L418.50,290.30L419.00,290.30L419.00,290.30L419.50,290.30L419.50,290.30L420.00,290.30L420.00,290.30L420.50,290.30L420.50,290.30L421.00,290.30L421.00,290.30L421.50,290.30L421.50,290.30L422.00,290.30L422.00,290.30L422.50,290.30L422.50,288.21L423.00,288.21L423.00,288.24L423.50,288.24L423.50,288.34L424.00,288.34L424.00,288.23L424.50,288.23L424.50,288.21L425.00,288.21L425.00,290.30L425.50,290.30L425.50,290.30L426.00,290.30L426.00,290.30L426.50,290.30L426.50,290.30L427.00,290.30L427.00,290.30L427.50,290.30L427.50,290.30L428.00,290.30L428.00,290.30L428.50,290.30L428.50,290.30L429.00,290.30L429.00,289.06L429.50,289.06L429.50,289.03L430.00,289.03L430.00,289.13L430.50,289.13L430.50,289.02L431.00,289.02L431.00,289.07L431.50,289.07L431.50,289.10L432.00,289.10L432.00,290.30L432.50,290.30L432.50,290.30L433.00,290.30L433.00,290.30L433.50,290.30L433.50,290.30L434.00,290.30L434.00,289.82L434.50,289.82L434.50,289.85L435.00,289.85L435.00,289.82L435.50,289.82L435.50,289.81L436.00,289.81L436.00,289.82L436.50,289.82L436.50,289.80L437.00,289.80L437.00,290.30L437.50,290.30L437.50,290.30L438.00,290.30L438.00,290.30L438.50,290.30L438.50,290.30L439.00,290.30L439.00,290.30L439.50,290.30L439.50,290.30L440.00,290.30L440.00,290.30L440.50,290.30L440.50,290.30L441.00,290.30L441.00,290.30L441.50,290.30L441.50,290.30L442.00,290.30L442.00,290.30L442.50,290.30L442.50,290.30L443.00,290.30L443.00,290.30L443.50,290.30L443.50,290.30L444.00,290.30L444.00,290.30L444.50,290.30L444.50,290.30L445.00,290.30L445.00,290.30L445.50,290.30L445.50,290.30L446.00,290.30L446.00,290.30L446.50,290.30L446.50,290.30L447.00,290.30L447.00,290.30L447.50,290.30L447.50,290.30L448.00,290.30L448.00,290.30L448.50,290.30L448.50,290.30L449.00,290.30L449.00,290.30L449.50,290.30L449.50,290.30L450.00,290.30L450.00,290.30L450.50,290.30L450.50,290.30L451.00,290.30L451.00,288.10L451.50,288.10L451.50,288.06L452.00,288.06L452.00,288.20L452.50,288.20L452.50,287.00L453.00,287.00L453.00,286.88L453.50,286.88L453.50,286.71L454.00,286.71L454.00,286.79L454.50,286.79L454.50,290.30L455.00,290.30L455.00,290.30L455.50,290.30L455.50,290.30L456.00,290.30L456.00,290.30L456.50,290.30L456.50,290.30L457.00,290.30L457.00,290.30L457.50,290.30L457.50,290.30L458.00,290.30L458.00,290.30L458.50,290.30L458.50,290.30L459.00,290.30L459.00,290.30L459.50,290.30L459.50,290.30L460.00,290.30L460.00,290.30L460.50,290.30L460.50,290.30L461.00,290.30L461.00,290.30L461.50,290.30L461.50,290.30L462.00,290.30L462.00,290.30L462.50,290.30L462.50,290.30L463.00,290.30L463.00,290.30L463.50,290.30L463.50,290.30L464.00,290.30L464.00,290.30L464.50,290.30L464.50,290.30L465.00,290.30L465.00,290.30L465.50,290.30L465.50,290.30L466.00,290.30L466.00,290.30L466.50,290.30L466.50,290.30L467.00,290.30L467.00,285.81L467.50,285.81L467.50,285.80L468.00,285.80L468.00,285.81L468.50,285.81L468.50,290.30L469.00,290.30L469.00,290.30L469.50,290.30L469.50,290.30L470.00,290.30L470.00,290.30L470.50,290.30L470.50,290.30L471.00,290.30L471.00,290.30L471.50,290.30L471.50,290.30L472.00,290.30L472.00,290.30L472.50,290.30L472.50,290.30L473.00,290.30L473.00,290.30L473.50,290.30L473.50,290.30L474.00,290.30L474.00,290.30L474.50,290.30L474.50,290.30L475.00,290.30L475.00,290.30L475.50,290.30L475.50,290.30L476.00,290.30L476.00,290.30L476.50,290.30L476.50,290.30L477.00,290.30L477.00,290.30L477.50,290.30L477.50,290.30L478.00,290.30L478.00,290.30L478.50,290.30L478.50,290.30L479.00,290.30L479.00,290.30L479.50,290.30L479.50,290.30L480.00,290.30L480.00,290.30L480.50,290.30L480.50,290.30L481.00,290.30L481.00,290.30L481.50,290.30L481.50,290.30L482.00,290.30L482.00,290.30L482.50,290.30L482.50,290.30L483.00,290.30L483.00,290.30L483.50,290.30L483.50,290.30L484.00,290.30L484.00,290.30L484.50,290.30L484.50,290.30L485.00,290.30L485.00,290.30L485.50,290.30L485.50,290.30L486.00,290.30L486.00,290.30L486.50,290.30L486.50,290.30L487.00,290.30L487.00,290.30L487.50,290.30L487.50,290.30L488.00,290.30L488.00,290.30L488.50,290.30L488.50,290.30L489.00,290.30L489.00,290.30L489.50,290.30L489.50,290.30L490.00,290.30L490.00,290.30L490.50,290.30L490.50,290.30L491.00,290.30L491.00,290.30L491.50,290.30L491.50,288.66L492.00,288.66L492.00,288.53L492.50,288.53L492.50,288.51L493.00,288.51L493.00,288.67L493.50,288.67L493.50,288.60L494.00,288.60L494.00,288.68L494.50,288.68L494.50,288.57L495.00,288.57L495.00,288.66L495.50,288.66L495.50,288.62L496.00,288.62L496.00,290.30L496.50,290.30L496.50,290.30L497.00,290.30L497.00,290.30L497.50,290.30L497.50,290.30L498.00,290.30L498.00,290.30L498.50,290.30L498.50,290.30L499.00,290.30L499.00,290.30L499.50,290.30L499.50,290.30L500.00,290.30L500.00,290.30L500.50,290.30L500.50,290.30L501.00,290.30L501.00,290.30L501.50,290.30L501.50,290.30L502.00,290.30L502.00,287.91L502.50,287.91L502.50,287.89L503.00,287.89L503.00,287.83L503.50,287.83L503.50,287.72L504.00,287.72L504.00,287.75L504.50,287.75L504.50,287.93L505.00,287.93L505.00,287.93L505.50,287.93L505.50,290.30L506.00,290.30L506.00,290.30L506.50,290.30L506.50,290.30L507.00,290.30L507.00,290.30L507.50,290.30L507.50,290.30L508.00,290.30L508.00,290.30L508.50,290.30L508.50,290.30L509.00,290.30L509.00,290.30L509.50,290.30L509.50,290.30L510.00,290.30L510.00,290.30L510.50,290.30L510.50,290.30L511.00,290.30L511.00,290.30L511.50,290.30L511.50,290.30L512.00,290.30L512.00,290.30L512.50,290.30L512.50,290.30L513.00,290.30L513.00,290.30L513.50,290.30L513.50,290.30L514.00,290.30L514.00,290.30L514.50,290.30L514.50,290.30L515.00,290.30L515.00,290.30L515.50,290.30L515.50,290.30L516.00,290.30L516.00,290.30L516.50,290.30L516.50,290.30L517.00,290.30L517.00,290.30L517.50,290.30L517.50,290.30L518.00,290.30L518.00,290.30L518.50,290.30L518.50,290.30L519.00,290.30L519.00,290.30L519.50,290.30L519.50,290.30L519.90,290.30L519.90,290.30Z" fill="#ee3a74"/>
<path d="M248.50,290.30L248.50,290.30L249.00,290.30L249.00,290.30L249.50,290.30L249.50,290.30L250.00,290.30L250.00,290.30L250.50,290.30L250.50,290.30L251.00,290.30L251.00,290.30L251.50,290.30L251.50,290.30L252.00,290.30L252.00,290.30L252.50,290.30L252.50,290.30L253.00,290.30L253.00,290.30L253.50,290.30L253.50,290.30L254.00,290.30L254.00,290.30L254.50,290.30L254.50,290.30L255.00,290.30L255.00,290.30L255.50,290.30L255.50,290.30L256.00,290.30L256.00,290.30L256.50,290.30L256.50,290.30L257.00,290.30L257.00,290.30L257.50,290.30L257.50,290.30L258.00,290.30L258.00,290.30L258.50,290.30L258.50,290.30L259.00,290.30L259.00,290.30L259.50,290.30L259.50,290.30L260.00,290.30L260.00,290.30L260.50,290.30L260.50,290.30L261.00,290.30L261.00,290.30L261.50,290.30L261.50,290.30L262.00,290.30L262.00,290.30L262.50,290.30L262.50,290.30L263.00,290.30L263.00,290.30L263.50,290.30L263.50,290.30L264.00,290.30L264.00,290.30L264.50,290.30L264.50,290.30L265.00,290.30L265.00,290.30L265.50,290.30L265.50,290.30L266.00,290.30L266.00,290.30L266.50,290.30L266.50,290.30L267.00,290.30L267.00,290.30L267.50,290.30L267.50,290.30L268.00,290.30L268.00,290.30L268.50,290.30L268.50,290.30L269.00,290.30L269.00,290.30L269.50,290.30L269.50,290.30L270.00,290.30L270.00,290.30L270.50,290.30L270.50,290.30L271.00,290.30L271.00,290.30L271.50,290.30L271.50,290.30L272.00,290.30L272.00,290.30L272.50,290.30L272.50,290.30L273.00,290.30L273.00,290.30L273.50,290.30L273.50,290.30L274.00,290.30L274.00,290.30L274.50,290.30L274.50,290.30L275.00,290.30L275.00,290.30L275.50,290.30L275.50,290.30L276.00,290.30L276.00,290.30L276.50,290.30L276.50,290.30L277.00,290.30L277.00,290.30L277.50,290.30L277.50,290.30L278.00,290.30L278.00,290.30L278.50,290.30L278.50,290.30L279.00,290.30L279.00,290.30L279.50,290.30L279.50,290.30L280.00,290.30L280.00,290.30L280.50,290.30L280.50,290.30L281.00,290.30L281.00,290.30L281.50,290.30L281.50,290.30L282.00,290.30L282.00,290.30L282.50,290.30L282.50,290.30L283.00,290.30L283.00,290.30L283.50,290.30L283.50,290.30L284.00,290.30L284.00,290.30L284.50,290.30L284.50,290.30L285.00,290.30L285.00,290.30L285.50,290.30L285.50,290.30L286.00,290.30L286.00,290.30L286.50,290.30L286.50,290.30L287.00,290.30L287.00,290.30L287.50,290.30L287.50,290.30L288.00,290.30L288.00,290.30L288.50,290.30L288.50,290.30L289.00,290.30L289.00,291.39L289.50,291.39L289.50,291.37L290.00,291.37L290.00,291.36L290.50,291.36L290.50,292.10L291.00,292.10L291.00,292.17L291.50,292.17L291.50,292.11L292.00,292.11L292.00,292.39L292.50,292.39L292.50,292.25L293.00,292.25L293.00,292.10L293.50,292.10L293.50,292.20L294.00,292.20L294.00,291.34L294.50,291.34L294.50,291.48L295.00,291.48L295.00,291.42L295.50,291.42L295.50,290.30L296.00,290.30L296.00,290.30L296.50,290.30L296.50,290.30L297.00,290.30L297.00,290.30L297.50,290.30L297.50,290.30L298.00,290.30L298.00,291.26L298.50,291.26L298.50,291.22L299.00,291.22L299.00,291.21L299.50,291.21L299.50,291.30L300.00,291.30L300.00,291.27L300.50,291.27L300.50,291.26L301.00,291.26L301.00,291.16L301.50,291.16L301.50,291.19L302.00,291.19L302.00,291.28L302.50,291.28L302.50,291.18L303.00,291.18L303.00,290.30L303.50,290.30L303.50,290.30L304.00,290.30L304.00,290.30L304.50,290.30L304.50,290.30L305.00,290.30L305.00,290.30L305.50,290.30L305.50,290.30L306.00,290.30L306.00,290.30L306.50,290.30L306.50,290.30L307.00,290.30L307.00,290.30L307.50,290.30L307.50,290.30L308.00,290.30L308.00,290.30L308.50,290.30L308.50,290.30L309.00,290.30L309.00,290.30L309.50,290.30L309.50,290.30L310.00,290.30L310.00,290.30L310.50,290.30L310.50,290.30L311.00,290.30L311.00,290.30L311.50,290.30L311.50,290.30L312.00,290.30L312.00,290.30L312.50,290.30L312.50,290.30L313.00,290.30L313.00,290.30L313.50,290.30L313.50,290.30L314.00,290.30L314.00,290.30L314.50,290.30L314.50,290.30L315.00,290.30L315.00,290.30L315.50,290.30L315.50,290.30L316.00,290.30L316.00,292.26L316.50,292.26L316.50,292.11L317.00,292.11L317.00,292.26L317.50,292.26L317.50,292.30L318.00,292.30L318.00,292.82L318.50,292.82L318.50,293.11L319.00,293.11L319.00,293.11L319.50,293.11L319.50,292.77L320.00,292.77L320.00,292.82L320.50,292.82L320.50,293.07L321.00,293.07L321.00,292.78L321.50,292.78L321.50,292.97L322.00,292.97L322.00,292.91L322.50,292.91L322.50,293.11L323.00,293.11L323.00,291.76L323.50,291.76L323.50,291.82L324.00,291.82L324.00,291.75L324.50,291.75L324.50,290.30L325.00,290.30L325.00,290.30L325.50,290.30L325.50,290.30L326.00,290.30L326.00,290.30L326.50,290.30L326.50,290.30L327.00,290.30L327.00,290.30L327.50,290.30L327.50,290.30L328.00,290.30L328.00,290.30L328.50,290.30L328.50,291.34L329.00,291.34L329.00,291.45L329.50,291.45L329.50,291.43L330.00,291.43L330.00,291.47L330.50,291.47L330.50,291.47L331.00,291.47L331.00,290.30L331.50,290.30L331.50,290.30L332.00,290.30L332.00,290.30L332.50,290.30L332.50,290.30L333.00,290.30L333.00,290.30L333.50,290.30L333.50,290.30L334.00,290.30L334.00,290.30L334.50,290.30L334.50,290.30L335.00,290.30L335.00,290.30L335.50,290.30L335.50,290.30L336.00,290.30L336.00,290.30L336.50,290.30L336.50,290.30L337.00,290.30L337.00,290.30L337.50,290.30L337.50,290.99L338.00,290.99L338.00,290.97L338.50,290.97L338.50,290.94L339.00,290.94L339.00,291.00L339.50,291.00L339.50,290.30L340.00,290.30L340.00,290.30L340.50,290.30L340.50,290.30L341.00,290.30L341.00,290.30L341.50,290.30L341.50,290.30L342.00,290.30L342.00,290.30L342.50,290.30L342.50,290.30L343.00,290.30L343.00,290.30L343.50,290.30L343.50,290.30L344.00,290.30L344.00,290.30L344.50,290.30L344.50,290.30L345.00,290.30L345.00,290.30L345.50,290.30L345.50,290.30L346.00,290.30L346.00,290.30L346.50,290.30L346.50,290.30L347.00,290.30L347.00,290.30L347.50,290.30L347.50,290.30L348.00,290.30L348.00,290.30L348.50,290.30L348.50,290.30L349.00,290.30L349.00,290.30L349.50,290.30L349.50,290.30L350.00,290.30L350.00,290.30L350.50,290.30L350.50,290.30L351.00,290.30L351.00,290.30L351.50,290.30L351.50,290.30L352.00,290.30L352.00,291.65L352.50,291.65L352.50,291.72L353.00,291.72L353.00,291.73L353.50,291.73L353.50,291.62L354.00,291.62L354.00,291.69L354.50,291.69L354.50,291.73L355.00,291.73L355.00,290.30L355.50,290.30L355.50,290.30L356.00,290.30L356.00,290.30L356.50,290.30L356.50,290.30L357.00,290.30L357.00,292.16L357.50,292.16L357.50,292.09L358.00,292.09L358.00,292.28L358.50,292.28L358.50,292.01L359.00,292.01L359.00,292.29L359.50,292.29L359.50,292.08L360.00,292.08L360.00,290.30L360.50,290.30L360.50,290.30L361.00,290.30L361.00,290.30L361.50,290.30L361.50,290.30L362.00,290.30L362.00,290.30L362.50,290.30L362.50,290.30L363.00,290.30L363.00,290.30L363.50,290.30L363.50,290.30L364.00,290.30L364.00,290.30L364.50,290.30L364.50,290.30L365.00,290.30L365.00,292.22L365.50,292.22L365.50,292.49L366.00,292.49L366.00,292.24L366.50,292.24L366.50,294.17L367.00,294.17L367.00,294.04L367.50,294.04L367.50,294.39L368.00,294.39L368.00,294.37L368.50,294.37L368.50,294.29L369.00,294.29L369.00,293.81L369.50,293.81L369.50,294.28L370.00,294.28L370.00,293.94L370.50,293.94L370.50,293.83L371.00,293.83L371.00,292.19L371.50,292.19L371.50,292.39L372.00,292.39L372.00,290.30L372.50,290.30L372.50,290.30L373.00,290.30L373.00,290.30L373.50,290.30L373.50,290.30L374.00,290.30L374.00,290.30L374.50,290.30L374.50,290.30L375.00,290.30L375.00,290.30L375.50,290.30L375.50,290.30L376.00,290.30L376.00,290.30L376.50,290.30L376.50,290.30L377.00,290.30L377.00,290.30L377.50,290.30L377.50,290.30L378.00,290.30L378.00,290.30L378.50,290.30L378.50,290.30L379.00,290.30L379.00,290.30L379.50,290.30L379.50,290.30L380.00,290.30L380.00,290.30L380.50,290.30L380.50,290.30L381.00,290.30L381.00,290.30L381.50,290.30L381.50,290.30L382.00,290.30L382.00,290.30L382.50,290.30L382.50,292.19L383.00,292.19L383.00,292.14L383.50,292.14L383.50,292.07L384.00,292.07L384.00,290.30L384.50,290.30L384.50,290.30L385.00,290.30L385.00,290.30L385.50,290.30L385.50,290.30L386.00,290.30L386.00,290.30L386.50,290.30L386.50,290.30L387.00,290.30L387.00,290.30L387.50,290.30L387.50,290.30L388.00,290.30L388.00,290.30L388.50,290.30L388.50,290.30L389.00,290.30L389.00,290.30L389.50,290.30L389.50,290.30L390.00,290.30L390.00,290.30L390.50,290.30L390.50,290.30L391.00,290.30L391.00,290.30L391.50,290.30L391.50,290.30L392.00,290.30L392.00,290.30L392.50,290.30L392.50,290.30L393.00,290.30L393.00,290.30L393.50,290.30L393.50,290.30L394.00,290.30L394.00,292.07L394.50,292.07L394.50,291.90L395.00,291.90L395.00,291.88L395.50,291.88L395.50,291.87L396.00,291.87L396.00,292.09L396.50,292.09L396.50,291.84L397.00,291.84L397.00,292.08L397.50,292.08L397.50,292.01L398.00,292.01L398.00,290.30L398.50,290.30L398.50,290.30L399.00,290.30L399.00,290.30L399.50,290.30L399.50,290.30L400.00,290.30L400.00,290.30L400.50,290.30L400.50,290.30L401.00,290.30L401.00,290.30L401.50,290.30L401.50,290.30L402.00,290.30L402.00,290.30L402.50,290.30L402.50,290.30L403.00,290.30L403.00,292.03L403.50,292.03L403.50,291.94L404.00,291.94L404.00,292.10L404.50,292.10L404.50,291.94L405.00,291.94L405.00,292.60L405.50,292.60L405.50,292.68L406.00,292.68L406.00,292.68L406.50,292.68L406.50,292.73L407.00,292.73L407.00,293.56L407.50,293.56L407.50,293.53L408.00,293.53L408.00,293.26L408.50,293.26L408.50,293.11L409.00,293.11L409.00,294.50L409.50,294.50L409.50,294.57L410.00,294.57L410.00,293.96L410.50,293.96L410.50,294.26L411.00,294.26L411.00,295.84L411.50,295.84L411.50,295.99L412.00,295.99L412.00,295.67L412.50,295.67L412.50,295.47L413.00,295.47L413.00,295.80L413.50,295.80L413.50,290.30L414.00,290.30L414.00,290.30L414.50,290.30L414.50,290.30L415.00,290.30L415.00,290.30L415.50,290.30L415.50,290.30L416.00,290.30L416.00,290.30L416.50,290.30L416.50,290.30L417.00,290.30L417.00,290.30L417.50,290.30L417.50,290.30L418.00,290.30L418.00,290.30L418.50,290.30L418.50,290.30L419.00,290.30L419.00,290.30L419.50,290.30L419.50,290.30L420.00,290.30L420.00,290.30L420.50,290.30L420.50,290.30L421.00,290.30L421.00,290.30L421.50,290.30L421.50,290.30L422.00,290.30L422.00,290.30L422.50,290.30L422.50,290.30L423.00,290.30L423.00,290.30L423.50,290.30L423.50,290.30L424.00,290.30L424.00,290.30L424.50,290.30L424.50,290.30L425.00,290.30L425.00,291.05L425.50,291.05L425.50,291.09L426.00,291.09L426.00,290.99L426.50,290.99L426.50,291.10L427.00,291.10L427.00,291.04L427.50,291.04L427.50,291.00L428.00,291.00L428.00,291.08L428.50,291.08L428.50,291.01L429.00,291.01L429.00,290.30L429.50,290.30L429.50,290.30L430.00,290.30L430.00,290.30L430.50,290.30L430.50,290.30L431.00,290.30L431.00,290.30L431.50,290.30L431.50,290.30L432.00,290.30L432.00,290.30L432.50,290.30L432.50,290.30L433.00,290.30L433.00,290.30L433.50,290.30L433.50,290.30L434.00,290.30L434.00,290.30L434.50,290.30L434.50,290.30L435.00,290.30L435.00,290.30L435.50,290.30L435.50,290.30L436.00,290.30L436.00,290.30L436.50,290.30L436.50,290.30L437.00,290.30L437.00,290.30L437.50,290.30L437.50,290.30L438.00,290.30L438.00,290.30L438.50,290.30L438.50,290.30L439.00,290.30L439.00,290.30L439.50,290.30L439.50,290.30L440.00,290.30L440.00,290.30L440.50,290.30L440.50,290.30L441.00,290.30L441.00,290.30L441.50,290.30L441.50,290.99L442.00,290.99L442.00,291.02L442.50,291.02L442.50,291.01L443.00,291.01L443.00,291.09L443.50,291.09L443.50,291.05L444.00,291.05L444.00,291.08L444.50,291.08L444.50,291.00L445.00,291.00L445.00,291.06L445.50,291.06L445.50,291.05L446.00,291.05L446.00,290.98L446.50,290.98L446.50,291.00L447.00,291.00L447.00,290.98L447.50,290.98L447.50,291.05L448.00,291.05L448.00,291.04L448.50,291.04L448.50,291.01L449.00,291.01L449.00,291.04L449.50,291.04L449.50,291.07L450.00,291.07L450.00,290.30L450.50,290.30L450.50,290.30L451.00,290.30L451.00,290.30L451.50,290.30L451.50,290.30L452.00,290.30L452.00,290.30L452.50,290.30L452.50,290.30L453.00,290.30L453.00,290.30L453.50,290.30L453.50,290.30L454.00,290.30L454.00,290.30L454.50,290.30L454.50,290.30L455.00,290.30L455.00,290.30L455.50,290.30L455.50,290.30L456.00,290.30L456.00,290.30L456.50,290.30L456.50,290.30L457.00,290.30L457.00,290.30L457.50,290.30L457.50,290.30L458.00,290.30L458.00,290.30L458.50,290.30L458.50,290.30L459.00,290.30L459.00,290.30L459.50,290.30L459.50,290.30L460.00,290.30L460.00,290.30L460.50,290.30L460.50,290.30L461.00,290.30L461.00,290.30L461.50,290.30L461.50,290.30L462.00,290.30L462.00,290.30L462.50,290.30L462.50,292.18L463.00,292.18L463.00,292.26L463.50,292.26L463.50,292.19L464.00,292.19L464.00,292.00L464.50,292.00L464.50,292.01L465.00,292.01L465.00,292.11L465.50,292.11L465.50,292.15L466.00,292.15L466.00,292.20L466.50,292.20L466.50,290.30L467.00,290.30L467.00,290.30L467.50,290.30L467.50,290.30L468.00,290.30L468.00,290.30L468.50,290.30L468.50,290.30L469.00,290.30L469.00,290.30L469.50,290.30L469.50,290.30L470.00,290.30L470.00,290.30L470.50,290.30L470.50,290.30L471.00,290.30L471.00,292.96L471.50,292.96L471.50,292.89L472.00,292.89L472.00,292.68L472.50,292.68L472.50,294.30L473.00,294.30L473.00,294.65L473.50,294.65L473.50,294.36L474.00,294.36L474.00,294.37L474.50,294.37L474.50,294.42L475.00,294.42L475.00,294.44L475.50,294.44L475.50,294.38L476.00,294.38L476.00,294.65L476.50,294.65L476.50,294.41L477.00,294.41L477.00,292.89L477.50,292.89L477.50,292.80L478.00,292.80L478.00,292.69L478.50,292.69L478.50,290.30L479.00,290.30L479.00,290.30L479.50,290.30L479.50,290.30L480.00,290.30L480.00,290.30L480.50,290.30L480.50,292.09L481.00,292.09L481.00,292.21L481.50,292.21L481.50,292.02L482.00,292.02L482.00,292.11L482.50,292.11L482.50,292.13L483.00,292.13L483.00,292.30L483.50,292.30L483.50,292.14L484.00,292.14L484.00,292.22L484.50,292.22L484.50,290.30L485.00,290.30L485.00,290.30L485.50,290.30L485.50,290.30L486.00,290.30L486.00,290.30L486.50,290.30L486.50,290.30L487.00,290.30L487.00,290.30L487.50,290.30L487.50,290.30L488.00,290.30L488.00,290.30L488.50,290.30L488.50,290.30L489.00,290.30L489.00,290.30L489.50,290.30L489.50,290.30L490.00,290.30L490.00,290.30L490.50,290.30L490.50,290.30L491.00,290.30L491.00,290.30L491.50,290.30L491.50,290.30L492.00,290.30L492.00,290.30L492.50,290.30L492.50,290.30L493.00,290.30L493.00,290.30L493.50,290.30L493.50,290.30L494.00,290.30L494.00,290.30L494.50,290.30L494.50,290.30L495.00,290.30L495.00,290.30L495.50,290.30L495.50,290.30L496.00,290.30L496.00,290.30L496.50,290.30L496.50,290.30L497.00,290.30L497.00,290.30L497.50,290.30L497.50,290.30L498.00,290.30L498.00,290.30L498.50,290.30L498.50,290.30L499.00,290.30L499.00,290.30L499.50,290.30L499.50,290.30L500.00,290.30L500.00,291.65L500.50,291.65L500.50,291.70L501.00,291.70L501.00,290.30L501.50,290.30L501.50,290.30L502.00,290.30L502.00,290.30L502.50,290.30L502.50,290.30L503.00,290.30L503.00,290.30L503.50,290.30L503.50,290.30L504.00,290.30L504.00,290.30L504.50,290.30L504.50,290.30L505.00,290.30L505.00,290.30L505.50,290.30L505.50,290.30L506.00,290.30L506.00,290.30L506.50,290.30L506.50,290.30L507.00,290.30L507.00,290.30L507.50,290.30L507.50,290.30L508.00,290.30L508.00,290.30L508.50,290.30L508.50,290.30L509.00,290.30L509.00,290.30L509.50,290.30L509.50,290.30L510.00,290.30L510.00,290.30L510.50,290.30L510.50,290.30L511.00,290.30L511.00,290.30L511.50,290.30L511.50,290.30L512.00,290.30L512.00,290.30L512.50,290.30L512.50,290.30L513.00,290.30L513.00,290.30L513.50,290.30L513.50,290.30L514.00,290.30L514.00,290.30L514.50,290.30L514.50,290.30L515.00,290.30L515.00,290.30L515.50,290.30L515.50,290.30L516.00,290.30L516.00,290.30L516.50,290.30L516.50,290.30L517.00,290.30L517.00,290.30L517.50,290.30L517.50,290.30L518.00,290.30L518.00,290.30L518.50,290.30L518.50,292.14L519.00,292.14L519.00,292.20L519.50,292.20L519.50,292.15L519.90,292.15L519.90,290.30Z" fill="#555555"/>
<path d="M527.00,290.30L527.00,290.30L527.50,290.30L527.50,290.30L528.00,290.30L528.00,290.30L528.50,290.30L528.50,290.30L529.00,290.30L529.00,290.30L529.50,290.30L529.50,290.30L530.00,290.30L530.00,290.30L530.50,290.30L530.50,290.30L531.00,290.30L531.00,290.30L531.50,290.30L531.50,290.30L532.00,290.30L532.00,290.30L532.50,290.30L532.50,290.30L533.00,290.30L533.00,290.30L533.50,290.30L533.50,290.30L534.00,290.30L534.00,290.30L534.50,290.30L534.50,290.30L535.00,290.30L535.00,290.30L535.50,290.30L535.50,290.30L536.00,290.30L536.00,287.72L536.50,287.72L536.50,287.73L537.00,287.73L537.00,286.49L537.50,286.49L537.50,286.40L538.00,286.40L538.00,286.30L538.50,286.30L538.50,287.69L539.00,287.69L539.00,287.63L539.50,287.63L539.50,290.30L540.00,290.30L540.00,290.30L540.50,290.30L540.50,290.30L541.00,290.30L541.00,290.30L541.50,290.30L541.50,290.30L542.00,290.30L542.00,290.30L542.50,290.30L542.50,290.30L543.00,290.30L543.00,290.30L543.50,290.30L543.50,290.30L544.00,290.30L544.00,290.30L544.50,290.30L544.50,290.30L545.00,290.30L545.00,290.30L545.50,290.30L545.50,290.30L546.00,290.30L546.00,290.30L546.50,290.30L546.50,290.30L547.00,290.30L547.00,290.30L547.50,290.30L547.50,290.30L548.00,290.30L548.00,290.30L548.50,290.30L548.50,290.30L549.00,290.30L549.00,290.30L549.50,290.30L549.50,290.30L550.00,290.30L550.00,290.30L550.50,290.30L550.50,290.30L551.00,290.30L551.00,290.30L551.50,290.30L551.50,290.30L552.00,290.30L552.00,290.30L552.50,290.30L552.50,290.30L553.00,290.30L553.00,290.30L553.50,290.30L553.50,290.30L554.00,290.30L554.00,290.30L554.50,290.30L554.50,290.30L555.00,290.30L555.00,290.30L555.50,290.30L555.50,290.30L556.00,290.30L556.00,290.30L556.50,290.30L556.50,290.30L557.00,290.30L557.00,290.30L557.50,290.30L557.50,290.30L558.00,290.30L558.00,290.30L558.50,290.30L558.50,290.30L559.00,290.30L559.00,290.30L559.50,290.30L559.50,290.30L560.00,290.30L560.00,290.30L560.50,290.30L560.50,290.30L561.00,290.30L561.00,290.30L561.50,290.30L561.50,289.19L562.00,289.19L562.00,289.14L562.50,289.14L562.50,289.19L563.00,289.19L563.00,289.13L563.50,289.13L563.50,289.20L564.00,289.20L564.00,289.19L564.50,289.19L564.50,287.04L565.00,287.04L565.00,287.08L565.50,287.08L565.50,287.13L566.00,287.13L566.00,286.97L566.50,286.97L566.50,287.09L567.00,287.09L567.00,284.05L567.50,284.05L567.50,283.68L568.00,283.68L568.00,284.05L568.50,284.05L568.50,282.76L569.00,282.76L569.00,282.88L569.50,282.88L569.50,282.47L570.00,282.47L570.00,282.28L570.50,282.28L570.50,282.85L571.00,282.85L571.00,282.85L571.50,282.85L571.50,282.56L572.00,282.56L572.00,282.28L572.50,282.28L572.50,283.63L573.00,283.63L573.00,283.93L573.50,283.93L573.50,289.13L574.00,289.13L574.00,289.21L574.50,289.21L574.50,289.17L575.00,289.17L575.00,289.12L575.50,289.12L575.50,289.18L576.00,289.18L576.00,289.14L576.50,289.14L576.50,289.21L577.00,289.21L577.00,289.21L577.50,289.21L577.50,290.30L578.00,290.30L578.00,290.30L578.50,290.30L578.50,290.30L579.00,290.30L579.00,290.30L579.50,290.30L579.50,290.30L580.00,290.30L580.00,290.30L580.50,290.30L580.50,290.30L581.00,290.30L581.00,290.30L581.50,290.30L581.50,290.30L582.00,290.30L582.00,290.30L582.50,290.30L582.50,290.30L583.00,290.30L583.00,290.30L583.50,290.30L583.50,290.30L584.00,290.30L584.00,290.30L584.50,290.30L584.50,288.97L585.00,288.97L585.00,288.99L585.50,288.99L585.50,289.00L586.00,289.00L586.00,289.01L586.50,289.01L586.50,289.04L587.00,289.04L587.00,288.90L587.50,288.90L587.50,290.30L588.00,290.30L588.00,290.30L588.50,290.30L588.50,290.30L589.00,290.30L589.00,290.30L589.50,290.30L589.50,290.30L590.00,290.30L590.00,290.30L590.50,290.30L590.50,290.30L591.00,290.30L591.00,290.30L591.50,290.30L591.50,290.30L592.00,290.30L592.00,290.30L592.50,290.30L592.50,290.30L593.00,290.30L593.00,290.30L593.50,290.30L593.50,290.30L594.00,290.30L594.00,290.30L594.50,290.30L594.50,290.30L595.00,290.30L595.00,289.72L595.50,289.72L595.50,289.74L596.00,289.74L596.00,289.72L596.50,289.72L596.50,289.74L597.00,289.74L597.00,289.71L597.50,289.71L597.50,289.75L598.00,289.75L598.00,289.73L598.50,289.73L598.50,289.71L599.00,289.71L599.00,289.74L599.50,289.74L599.50,289.72L600.00,289.72L600.00,290.30L600.50,290.30L600.50,290.30L601.00,290.30L601.00,290.30L601.50,290.30L601.50,290.30L602.00,290.30L602.00,290.30L602.50,290.30L602.50,290.30L603.00,290.30L603.00,290.30L603.50,290.30L603.50,290.30L604.00,290.30L604.00,290.30L604.50,290.30L604.50,288.83L605.00,288.83L605.00,288.87L605.50,288.87L605.50,288.82L606.00,288.82L606.00,288.83L606.50,288.83L606.50,288.93L607.00,288.93L607.00,288.90L607.50,288.90L607.50,287.00L608.00,287.00L608.00,285.50L608.50,285.50L608.50,285.11L609.00,285.11L609.00,288.85L609.50,288.85L609.50,288.94L610.00,288.94L610.00,288.89L610.50,288.89L610.50,288.85L611.00,288.85L611.00,286.16L611.50,286.16L611.50,286.17L612.00,286.17L612.00,286.05L612.50,286.05L612.50,290.30L613.00,290.30L613.00,290.30L613.50,290.30L613.50,290.30L614.00,290.30L614.00,290.30L614.50,290.30L614.50,290.30L615.00,290.30L615.00,290.30L615.50,290.30L615.50,290.30L616.00,290.30L616.00,290.30L616.50,290.30L616.50,290.30L617.00,290.30L617.00,290.30L617.50,290.30L617.50,290.30L618.00,290.30L618.00,290.30L618.50,290.30L618.50,290.30L619.00,290.30L619.00,290.30L619.50,290.30L619.50,290.30L620.00,290.30L620.00,290.30L620.50,290.30L620.50,290.30L621.00,290.30L621.00,290.30L621.50,290.30L621.50,290.30L622.00,290.30L622.00,290.30L622.50,290.30L622.50,290.30L623.00,290.30L623.00,290.30L623.50,290.30L623.50,290.30L624.00,290.30L624.00,290.30L624.50,290.30L624.50,290.30L625.00,290.30L625.00,290.30L625.50,290.30L625.50,290.30L626.00,290.30L626.00,290.30L626.50,290.30L626.50,290.30L627.00,290.30L627.00,290.30L627.50,290.30L627.50,290.30L628.00,290.30L628.00,290.30L628.50,290.30L628.50,290.30L629.00,290.30L629.00,290.30L629.50,290.30L629.50,290.30L630.00,290.30L630.00,290.30L630.50,290.30L630.50,290.30L631.00,290.30L631.00,290.30L631.50,290.30L631.50,286.88L632.00,286.88L632.00,286.52L632.50,286.52L632.50,286.66L633.00,286.66L633.00,282.90L633.50,282.90L633.50,282.62L634.00,282.62L634.00,283.08L634.50,283.08L634.50,282.50L635.00,282.50L635.00,283.08L635.50,283.08L635.50,283.01L636.00,283.01L636.00,282.84L636.50,282.84L636.50,283.01L637.00,283.01L637.00,282.66L637.50,282.66L637.50,282.97L638.00,282.97L638.00,282.94L638.50,282.94L638.50,282.71L639.00,282.71L639.00,282.68L639.50,282.68L639.50,282.86L640.00,282.86L640.00,290.30L640.50,290.30L640.50,290.30L641.00,290.30L641.00,290.30L641.50,290.30L641.50,290.30L642.00,290.30L642.00,290.30L642.50,290.30L642.50,290.30L643.00,290.30L643.00,290.30L643.50,290.30L643.50,290.30L644.00,290.30L644.00,290.30L644.50,290.30L644.50,290.30L645.00,290.30L645.00,289.44L645.50,289.44L645.50,289.41L646.00,289.41L646.00,289.47L646.50,289.47L646.50,290.30L647.00,290.30L647.00,290.30L647.50,290.30L647.50,290.30L648.00,290.30L648.00,290.30L648.50,290.30L648.50,290.30L649.00,290.30L649.00,290.30L649.50,290.30L649.50,290.30L650.00,290.30L650.00,290.30L650.50,290.30L650.50,290.30L651.00,290.30L651.00,290.30L651.50,290.30L651.50,290.30L652.00,290.30L652.00,290.30L652.50,290.30L652.50,289.23L653.00,289.23L653.00,289.25L653.50,289.25L653.50,289.29L654.00,289.29L654.00,289.22L654.50,289.22L654.50,289.20L655.00,289.20L655.00,289.21L655.50,289.21L655.50,289.26L656.00,289.26L656.00,290.30L656.50,290.30L656.50,290.30L657.00,290.30L657.00,290.30L657.50,290.30L657.50,290.30L658.00,290.30L658.00,290.30L658.50,290.30L658.50,290.30L659.00,290.30L659.00,290.30L659.50,290.30L659.50,290.30L660.00,290.30L660.00,290.30L660.50,290.30L660.50,290.30L661.00,290.30L661.00,290.30L661.50,290.30L661.50,290.30L662.00,290.30L662.00,290.30L662.50,290.30L662.50,290.30L663.00,290.30L663.00,290.30L663.50,290.30L663.50,290.30L664.00,290.30L664.00,290.30L664.50,290.30L664.50,290.30L665.00,290.30L665.00,290.30L665.50,290.30L665.50,290.30L666.00,290.30L666.00,290.30L666.50,290.30L666.50,290.30L667.00,290.30L667.00,290.30L667.50,290.30L667.50,290.30L668.00,290.30L668.00,290.30L668.50,290.30L668.50,290.30L669.00,290.30L669.00,290.30L669.50,290.30L669.50,290.30L670.00,290.30L670.00,290.30L670.50,290.30L670.50,290.30L671.00,290.30L671.00,290.30L671.50,290.30L671.50,290.30L672.00,290.30L672.00,290.30L672.50,290.30L672.50,290.30L673.00,290.30L673.00,290.30L673.50,290.30L673.50,290.30L674.00,290.30L674.00,290.30L674.50,290.30L674.50,290.30L675.00,290.30L675.00,290.30L675.50,290.30L675.50,290.30L676.00,290.30L676.00,290.30L676.50,290.30L676.50,290.30L677.00,290.30L677.00,290.30Z" fill="#ee3a74"/>
<path d="M527.00,290.30L527.00,290.30L527.50,290.30L527.50,290.30L528.00,290.30L528.00,290.30L528.50,290.30L528.50,290.30L529.00,290.30L529.00,290.30L529.50,290.30L529.50,290.30L530.00,290.30L530.00,290.30L530.50,290.30L530.50,290.30L531.00,290.30L531.00,290.30L531.50,290.30L531.50,292.14L532.00,292.14L532.00,291.93L532.50,291.93L532.50,292.16L533.00,292.16L533.00,292.00L533.50,292.00L533.50,292.18L534.00,292.18L534.00,292.13L534.50,292.13L534.50,290.30L535.00,290.30L535.00,290.30L535.50,290.30L535.50,290.30L536.00,290.30L536.00,290.30L536.50,290.30L536.50,290.30L537.00,290.30L537.00,290.30L537.50,290.30L537.50,290.30L538.00,290.30L538.00,290.30L538.50,290.30L538.50,290.30L539.00,290.30L539.00,290.30L539.50,290.30L539.50,290.30L540.00,290.30L540.00,290.30L540.50,290.30L540.50,290.30L541.00,290.30L541.00,290.30L541.50,290.30L541.50,290.30L542.00,290.30L542.00,290.30L542.50,290.30L542.50,290.30L543.00,290.30L543.00,290.30L543.50,290.30L543.50,290.30L544.00,290.30L544.00,290.30L544.50,290.30L544.50,290.30L545.00,290.30L545.00,290.30L545.50,290.30L545.50,290.30L546.00,290.30L546.00,291.32L546.50,291.32L546.50,291.46L547.00,291.46L547.00,291.38L547.50,291.38L547.50,291.42L548.00,291.42L548.00,291.42L548.50,291.42L548.50,291.41L549.00,291.41L549.00,291.47L549.50,291.47L549.50,291.35L550.00,291.35L550.00,291.48L550.50,291.48L550.50,290.30L551.00,290.30L551.00,290.30L551.50,290.30L551.50,290.30L552.00,290.30L552.00,290.30L552.50,290.30L552.50,290.30L553.00,290.30L553.00,290.30L553.50,290.30L553.50,290.30L554.00,290.30L554.00,290.30L554.50,290.30L554.50,293.39L555.00,293.39L555.00,293.49L555.50,293.49L555.50,295.00L556.00,295.00L556.00,294.90L556.50,294.90L556.50,294.54L557.00,294.54L557.00,294.92L557.50,294.92L557.50,295.12L558.00,295.12L558.00,293.38L558.50,293.38L558.50,293.02L559.00,293.02L559.00,293.47L559.50,293.47L559.50,291.39L560.00,291.39L560.00,291.43L560.50,291.43L560.50,291.38L561.00,291.38L561.00,291.44L561.50,291.44L561.50,290.30L562.00,290.30L562.00,290.30L562.50,290.30L562.50,290.30L563.00,290.30L563.00,290.30L563.50,290.30L563.50,290.30L564.00,290.30L564.00,290.30L564.50,290.30L564.50,290.30L565.00,290.30L565.00,290.30L565.50,290.30L565.50,290.30L566.00,290.30L566.00,290.30L566.50,290.30L566.50,290.30L567.00,290.30L567.00,290.30L567.50,290.30L567.50,290.30L568.00,290.30L568.00,290.30L568.50,290.30L568.50,290.30L569.00,290.30L569.00,290.30L569.50,290.30L569.50,290.30L570.00,290.30L570.00,290.30L570.50,290.30L570.50,290.30L571.00,290.30L571.00,290.30L571.50,290.30L571.50,290.30L572.00,290.30L572.00,290.30L572.50,290.30L572.50,290.30L573.00,290.30L573.00,290.30L573.50,290.30L573.50,290.30L574.00,290.30L574.00,290.30L574.50,290.30L574.50,290.30L575.00,290.30L575.00,290.30L575.50,290.30L575.50,290.30L576.00,290.30L576.00,290.30L576.50,290.30L576.50,290.30L577.00,290.30L577.00,290.30L577.50,290.30L577.50,290.30L578.00,290.30L578.00,290.30L578.50,290.30L578.50,290.30L579.00,290.30L579.00,290.30L579.50,290.30L579.50,290.30L580.00,290.30L580.00,290.30L580.50,290.30L580.50,290.30L581.00,290.30L581.00,290.30L581.50,290.30L581.50,290.30L582.00,290.30L582.00,290.30L582.50,290.30L582.50,290.30L583.00,290.30L583.00,290.30L583.50,290.30L583.50,290.30L584.00,290.30L584.00,290.30L584.50,290.30L584.50,290.30L585.00,290.30L585.00,290.30L585.50,290.30L585.50,290.30L586.00,290.30L586.00,290.30L586.50,290.30L586.50,290.30L587.00,290.30L587.00,290.30L587.50,290.30L587.50,290.30L588.00,290.30L588.00,290.30L588.50,290.30L588.50,290.30L589.00,290.30L589.00,290.30L589.50,290.30L589.50,290.30L590.00,290.30L590.00,290.30L590.50,290.30L590.50,290.30L591.00,290.30L591.00,290.30L591.50,290.30L591.50,290.30L592.00,290.30L592.00,290.30L592.50,290.30L592.50,290.30L593.00,290.30L593.00,290.30L593.50,290.30L593.50,290.30L594.00,290.30L594.00,290.30L594.50,290.30L594.50,290.30L595.00,290.30L595.00,290.30L595.50,290.30L595.50,290.30L596.00,290.30L596.00,290.30L596.50,290.30L596.50,290.30L597.00,290.30L597.00,290.30L597.50,290.30L597.50,290.30L598.00,290.30L598.00,290.30L598.50,290.30L598.50,290.30L599.00,290.30L599.00,290.30L599.50,290.30L599.50,290.30L600.00,290.30L600.00,290.30L600.50,290.30L600.50,290.30L601.00,290.30L601.00,290.30L601.50,290.30L601.50,290.30L602.00,290.30L602.00,290.30L602.50,290.30L602.50,290.30L603.00,290.30L603.00,290.30L603.50,290.30L603.50,290.30L604.00,290.30L604.00,291.55L604.50,291.55L604.50,291.60L605.00,291.60L605.00,290.30L605.50,290.30L605.50,290.30L606.00,290.30L606.00,290.30L606.50,290.30L606.50,290.30L607.00,290.30L607.00,290.30L607.50,290.30L607.50,290.30L608.00,290.30L608.00,290.30L608.50,290.30L608.50,290.30L609.00,290.30L609.00,290.30L609.50,290.30L609.50,290.30L610.00,290.30L610.00,290.30L610.50,290.30L610.50,290.30L611.00,290.30L611.00,290.30L611.50,290.30L611.50,290.30L612.00,290.30L612.00,290.30L612.50,290.30L612.50,290.30L613.00,290.30L613.00,292.92L613.50,292.92L613.50,292.81L614.00,292.81L614.00,292.95L614.50,292.95L614.50,293.14L615.00,293.14L615.00,293.17L615.50,293.17L615.50,292.79L616.00,292.79L616.00,292.99L616.50,292.99L616.50,293.12L617.00,293.12L617.00,292.79L617.50,292.79L617.50,292.95L618.00,292.95L618.00,292.88L618.50,292.88L618.50,292.82L619.00,292.82L619.00,293.08L619.50,293.08L619.50,293.04L620.00,293.04L620.00,292.56L620.50,292.56L620.50,292.85L621.00,292.85L621.00,292.60L621.50,292.60L621.50,292.86L622.00,292.86L622.00,292.63L622.50,292.63L622.50,292.63L623.00,292.63L623.00,292.53L623.50,292.53L623.50,292.57L624.00,292.57L624.00,292.70L624.50,292.70L624.50,292.82L625.00,292.82L625.00,292.84L625.50,292.84L625.50,292.69L626.00,292.69L626.00,292.70L626.50,292.70L626.50,292.87L627.00,292.87L627.00,292.55L627.50,292.55L627.50,292.70L628.00,292.70L628.00,291.73L628.50,291.73L628.50,291.85L629.00,291.85L629.00,291.84L629.50,291.84L629.50,291.90L630.00,291.90L630.00,291.82L630.50,291.82L630.50,291.84L631.00,291.84L631.00,290.30L631.50,290.30L631.50,290.30L632.00,290.30L632.00,290.30L632.50,290.30L632.50,290.30L633.00,290.30L633.00,290.30L633.50,290.30L633.50,290.30L634.00,290.30L634.00,290.30L634.50,290.30L634.50,290.30L635.00,290.30L635.00,290.30L635.50,290.30L635.50,290.30L636.00,290.30L636.00,290.30L636.50,290.30L636.50,290.30L637.00,290.30L637.00,290.30L637.50,290.30L637.50,290.30L638.00,290.30L638.00,290.30L638.50,290.30L638.50,290.30L639.00,290.30L639.00,290.30L639.50,290.30L639.50,290.30L640.00,290.30L640.00,290.30L640.50,290.30L640.50,290.30L641.00,290.30L641.00,290.30L641.50,290.30L641.50,292.08L642.00,292.08L642.00,292.09L642.50,292.09L642.50,291.96L643.00,291.96L643.00,291.95L643.50,291.95L643.50,292.15L644.00,292.15L644.00,292.09L644.50,292.09L644.50,292.15L645.00,292.15L645.00,290.30L645.50,290.30L645.50,292.46L646.00,292.46L646.00,292.35L646.50,292.35L646.50,292.63L647.00,292.63L647.00,292.42L647.50,292.42L647.50,292.59L648.00,292.59L648.00,292.70L648.50,292.70L648.50,292.42L649.00,292.42L649.00,292.58L649.50,292.58L649.50,292.64L650.00,292.64L650.00,292.54L650.50,292.54L650.50,292.62L651.00,292.62L651.00,292.55L651.50,292.55L651.50,290.30L652.00,290.30L652.00,290.30L652.50,290.30L652.50,290.30L653.00,290.30L653.00,290.30L653.50,290.30L653.50,290.30L654.00,290.30L654.00,290.30L654.50,290.30L654.50,290.30L655.00,290.30L655.00,290.30L655.50,290.30L655.50,290.30L656.00,290.30L656.00,290.30L656.50,290.30L656.50,290.30L657.00,290.30L657.00,292.54L657.50,292.54L657.50,292.55L658.00,292.55L658.00,292.49L658.50,292.49L658.50,292.60L659.00,292.60L659.00,292.67L659.50,292.67L659.50,292.67L660.00,292.67L660.00,292.66L660.50,292.66L660.50,292.51L661.00,292.51L661.00,292.57L661.50,292.57L661.50,292.41L662.00,292.41L662.00,292.52L662.50,292.52L662.50,290.30L663.00,290.30L663.00,290.30L663.50,290.30L663.50,290.30L664.00,290.30L664.00,290.30L664.50,290.30L664.50,290.30L665.00,290.30L665.00,290.30L665.50,290.30L665.50,290.30L666.00,290.30L666.00,290.30L666.50,290.30L666.50,290.30L667.00,290.30L667.00,290.30L667.50,290.30L667.50,290.30L668.00,290.30L668.00,290.30L668.50,290.30L668.50,290.30L669.00,290.30L669.00,290.30L669.50,290.30L669.50,290.30L670.00,290.30L670.00,290.30L670.50,290.30L670.50,290.30L671.00,290.30L671.00,290.30L671.50,290.30L671.50,290.30L672.00,290.30L672.00,290.30L672.50,290.30L672.50,290.30L673.00,290.30L673.00,290.30L673.50,290.30L673.50,290.30L674.00,290.30L674.00,290.30L674.50,290.30L674.50,290.30L675.00,290.30L675.00,290.30L675.50,290.30L675.50,290.30L676.00,290.30L676.00,290.30L676.50,290.30L676.50,290.30L677.00,290.30L677.00,290.30Z" fill="#555555"/>
<rect x="248.2" y="312.9" width="257.7" height="6.6" fill="#2f7432"/>
<rect x="505.9" y="318.5" width="14.1" height="0.9" fill="#2f7432"/>
<rect x="527.2" y="314.8" width="149" height="5.0" fill="#2f7432"/>
<text stroke="#000" stroke-width="0.18" x="367.8" y="311.2" font-size="6.55" font-family="Liberation Serif">7/10 samples</text>
<text stroke="#000" stroke-width="0.18" x="610.9" y="311.0" font-size="6.55" text-anchor="middle" font-family="Liberation Serif">6/10 samples</text>
<path d="M370.00,339.60L370.00,339.60L370.60,339.60L370.60,339.60L371.20,339.60L371.20,339.60L371.80,339.60L371.80,339.60L372.40,339.60L372.40,339.60L373.00,339.60L373.00,339.60L373.60,339.60L373.60,339.60L374.20,339.60L374.20,339.60L374.80,339.60L374.80,339.60L375.40,339.60L375.40,338.87L376.00,338.87L376.00,338.86L376.60,338.86L376.60,338.82L377.20,338.82L377.20,339.60L377.80,339.60L377.80,339.60L378.40,339.60L378.40,339.60L379.00,339.60L379.00,339.60L379.60,339.60L379.60,339.60L380.20,339.60L380.20,339.60L380.80,339.60L380.80,339.60L381.40,339.60L381.40,339.60L382.00,339.60L382.00,339.10L382.60,339.10L382.60,339.00L383.20,339.00L383.20,339.60L383.80,339.60L383.80,339.60L384.40,339.60L384.40,339.60L385.00,339.60L385.00,339.60L385.60,339.60L385.60,339.06L386.20,339.06L386.20,339.11L386.80,339.11L386.80,339.01L387.40,339.01L387.40,339.60L388.00,339.60L388.00,339.60L388.60,339.60L388.60,339.60L389.20,339.60L389.20,339.60L389.80,339.60L389.80,338.98L390.40,338.98L390.40,338.99L391.00,338.99L391.00,338.91L391.60,338.91L391.60,338.95L392.20,338.95L392.20,339.00L392.80,339.00L392.80,338.96L393.40,338.96L393.40,338.49L394.00,338.49L394.00,338.34L394.60,338.34L394.60,338.36L395.20,338.36L395.20,337.64L395.80,337.64L395.80,337.80L396.40,337.80L396.40,337.97L397.00,337.97L397.00,335.63L397.60,335.63L397.60,335.80L398.20,335.80L398.20,335.45L398.80,335.45L398.80,337.30L399.40,337.30L399.40,336.95L400.00,336.95L400.00,337.06L400.60,337.06L400.60,336.83L401.20,336.83L401.20,336.86L401.80,336.86L401.80,336.67L402.40,336.67L402.40,336.06L403.00,336.06L403.00,336.19L403.60,336.19L403.60,336.15L404.20,336.15L404.20,335.64L404.80,335.64L404.80,336.08L405.40,336.08L405.40,335.57L406.00,335.57L406.00,336.14L406.60,336.14L406.60,333.01L407.20,333.01L407.20,331.69L407.80,331.69L407.80,332.21L408.40,332.21L408.40,334.82L409.00,334.82L409.00,334.32L409.60,334.32L409.60,334.75L410.20,334.75L410.20,334.11L410.80,334.11L410.80,333.05L411.40,333.05L411.40,333.70L412.00,333.70L412.00,333.06L412.60,333.06L412.60,338.01L413.20,338.01L413.20,338.12L413.80,338.12L413.80,337.87L414.40,337.87L414.40,337.80L415.00,337.80L415.00,337.83L415.60,337.83L415.60,339.60L416.20,339.60L416.20,339.60L416.80,339.60L416.80,339.60L417.40,339.60L417.40,339.60L418.00,339.60L418.00,339.60L418.60,339.60L418.60,339.60L419.20,339.60L419.20,339.60L419.80,339.60L419.80,339.60L420.40,339.60L420.40,338.98L421.00,338.98L421.00,338.90L421.60,338.90L421.60,338.91L422.20,338.91L422.20,338.97L422.80,338.97L422.80,339.03L423.40,339.03L423.40,338.96L424.00,338.96L424.00,338.96L424.60,338.96L424.60,338.99L425.20,338.99L425.20,338.13L425.80,338.13L425.80,338.27L426.40,338.27L426.40,338.15L427.00,338.15L427.00,338.90L427.60,338.90L427.60,338.95L428.20,338.95L428.20,338.81L428.80,338.81L428.80,339.60L429.40,339.60L429.40,339.60L430.00,339.60L430.00,339.60Z" fill="#e6c832"/>
<path d="M557,340.1L557.00,340.10L557.50,340.10L557.50,340.10L558.00,340.10L558.00,338.21L558.50,338.21L558.50,338.72L559.00,338.72L559.00,338.72L559.50,338.72L559.50,338.92L560.00,338.92L560.00,340.10L560.50,340.10L560.50,340.10L561.00,340.10L561.00,340.10L561.50,340.10L561.50,340.10L562.00,340.10L562.00,340.10L562.50,340.10L562.50,340.10L563.00,340.10L563.00,340.10L563.50,340.10L563.50,340.10L564.00,340.10L564.00,340.10L564.50,340.10L564.50,338.02L565.00,338.02L565.00,338.08L565.50,338.08L565.50,337.98L566.00,337.98L566.00,338.07L566.50,338.07L566.50,338.68L567.00,338.68L567.00,337.96L567.50,337.96L567.50,338.44L568.00,338.44L568.00,338.06L568.50,338.06L568.50,338.15L569.00,338.15L569.00,338.32L569.50,338.32L569.50,338.81L570.00,338.81L570.00,338.53L570.50,338.53L570.50,337.82L571.00,337.82L571.00,338.13L571.50,338.13L571.50,337.98L572.00,337.98L572.00,338.85L572.50,338.85L572.50,338.77L573.00,338.77L573.00,338.77L573.50,338.77L573.50,338.79L574.00,338.79L574.00,338.69L574.50,338.69L574.50,338.94L575.00,338.94L575.00,338.75L575.50,338.75L575.50,338.11L576.00,338.11L576.00,338.82L576.50,338.82L576.50,338.38L577.00,338.38L577.00,338.71L577.50,338.71L577.50,338.48L578.00,338.48L578.00,338.32L578.50,338.32L578.50,338.24L579.00,338.24L579.00,338.32L579.50,338.32L579.50,338.18L580.00,338.18L580.00,337.14L580.50,337.14L580.50,337.98L581.00,337.98L581.00,337.96L581.50,337.96L581.50,338.18L582.00,338.18L582.00,337.83L582.50,337.83L582.50,337.67L583.00,337.67L583.00,337.90L583.50,337.90L583.50,337.16L584.00,337.16L584.00,337.81L584.50,337.81L584.50,337.53L585.00,337.53L585.00,337.21L585.50,337.21L585.50,337.24L586.00,337.24L586.00,337.63L586.50,337.63L586.50,337.30L587.00,337.30L587.00,337.55L587.50,337.55L587.50,337.73L588.00,337.73L588.00,337.47L588.50,337.47L588.50,337.16L589.00,337.16L589.00,337.59L589.50,337.59L589.50,337.28L590.00,337.28L590.00,337.28L590.50,337.28L590.50,337.23L591.00,337.23L591.00,337.44L591.50,337.44L591.50,337.09L592.00,337.09L592.00,337.78L592.50,337.78L592.50,338.14L593.00,338.14L593.00,335.87L593.50,335.87L593.50,336.26L594.00,336.26L594.00,336.52L594.50,336.52L594.50,335.45L595.00,335.45L595.00,335.57L595.50,335.57L595.50,336.37L596.00,336.37L596.00,336.41L596.50,336.41L596.50,336.17L597.00,336.17L597.00,335.59L597.50,335.59L597.50,335.90L598.00,335.90L598.00,336.44L598.50,336.44L598.50,336.46L599.00,336.46L599.00,336.36L599.50,336.36L599.50,335.64L600.00,335.64L600.00,335.42L600.50,335.42L600.50,334.85L601.00,334.85L601.00,335.26L601.50,335.26L601.50,334.56L602.00,334.56L602.00,335.57L602.50,335.57L602.50,335.12L603.00,335.12L603.00,335.27L603.50,335.27L603.50,334.65L604.00,334.65L604.00,335.14L604.50,335.14L604.50,335.10L605.00,335.10L605.00,334.41L605.50,334.41L605.50,334.13L606.00,334.13L606.00,334.57L606.50,334.57L606.50,334.11L607.00,334.11L607.00,334.05L607.50,334.05L607.50,333.90L608.00,333.90L608.00,334.52L608.50,334.52L608.50,333.83L609.00,333.83L609.00,333.97L609.50,333.97L609.50,333.78L610.00,333.78L610.00,329.00L610.50,329.00L610.50,329.00L611.00,329.00L611.00,329.00L611.50,329.00L611.50,329.88L612.00,329.88L612.00,324.30L612.50,324.30L612.50,324.31L613.00,324.31L613.00,324.30L613.50,324.30L613.50,324.90L614.00,324.90L614.00,324.30L614.50,324.30L614.50,324.30L615.00,324.30L615.00,325.24L615.50,325.24L615.50,324.30L616.00,324.30L616.00,324.30L616.50,324.30L616.50,324.97L617.00,324.97L617.00,328.00L617.50,328.00L617.50,328.00L618.00,328.00L618.00,324.30L618.50,324.30L618.50,324.30L619.00,324.30L619.00,324.30L619.50,324.30L619.50,324.30L620.00,324.30L620.00,325.30L620.50,325.30L620.50,327.00L621.00,327.00L621.00,327.00L621.50,327.00L621.50,324.30L622.00,324.30L622.00,324.30L622.50,324.30L622.50,324.30L623.00,324.30L623.00,324.30L623.50,324.30L623.50,324.30L624.00,324.30L624.00,329.00L624.50,329.00L624.50,329.00L625.00,329.00L625.00,324.30L625.50,324.30L625.50,324.30L626.00,324.30L626.00,324.30L626.50,324.30L626.50,325.10L627.00,325.10L627.00,325.82L627.50,325.82L627.50,326.00L628.00,326.00L628.00,327.55L628.50,327.55L628.50,324.30L629.00,324.30L629.00,324.30L629.50,324.30L629.50,324.30L630.00,324.30L630.00,324.30L630.50,324.30L630.50,324.30L631.00,324.30L631.00,324.30L631.50,324.30L631.50,331.73L632.00,331.73L632.00,331.65L632.50,331.65L632.50,330.00L633.00,330.00L633.00,330.00L633.50,330.00L633.50,333.87L634.00,333.87L634.00,333.44L634.50,333.44L634.50,333.55L635.00,333.55L635.00,337.03L635.50,337.03L635.50,337.13L636.00,337.13L636.00,337.65L636.50,337.65L636.50,337.79L637.00,337.79L637.00,333.45L637.50,333.45L637.50,334.04L638.00,334.04L638.00,332.56L638.50,332.56L638.50,333.36L639.00,333.36L639.00,332.79L639.50,332.79L639.50,333.47L640.00,333.47L640.00,331.65L640.50,331.65L640.50,331.15L641.00,331.15L641.00,331.01L641.50,331.01L641.50,331.30L642.00,331.30L642.00,332.04L642.50,332.04L642.50,325.26L643.00,325.26L643.00,324.30L643.50,324.30L643.50,324.30L644.00,324.30L644.00,324.30L644.50,324.30L644.50,324.30L645.00,324.30L645.00,324.30L645.50,324.30L645.50,324.30L646.00,324.30L646.00,324.30L646.50,324.30L646.50,324.30L647.00,324.30L647.00,326.50L647.50,326.50L647.50,326.50L648.00,326.50L648.00,324.30L648.50,324.30L648.50,324.30L649.00,324.30L649.00,324.30L649.50,324.30L649.50,324.30L650.00,324.30L650.00,324.57L650.50,324.57L650.50,324.30L651.00,324.30L651.00,324.30L651.50,324.30L651.50,324.30L652.00,324.30L652.00,324.30L652.50,324.30L652.50,324.30L653.00,324.30L653.00,324.30L653.50,324.30L653.50,324.40L654.00,324.40L654.00,325.75L654.50,325.75L654.50,325.73L655.00,325.73L655.00,324.30L655.50,324.30L655.50,324.30L656.00,324.30L656.00,324.30L656.50,324.30L656.50,324.30L657.00,324.30L657.00,324.30L657.50,324.30L657.50,324.30L658.00,324.30L658.00,324.30L658.50,324.30L658.50,324.30L659.00,324.30L659.00,324.30L659.50,324.30L659.50,324.92L660.00,324.92L660.00,324.30L660.50,324.30L660.50,328.00L661.00,328.00L661.00,328.00L661.50,328.00L661.50,328.00L662.00,328.00L662.00,328.00L662.50,328.00L662.50,328.06L663.00,328.06L663.00,332.71L663.50,332.71L663.50,332.80L664.00,332.80L664.00,333.52L664.50,333.52L664.50,332.70L665.00,332.70L665.00,337.92L665.50,337.92L665.50,337.92L666.00,337.92L666.00,337.40L666.50,337.40L666.50,338.09L667.00,338.09L667.00,337.81L667.50,337.81L667.50,339.50L668.00,339.50L668.00,339.50L668.50,339.50L668.50,339.50L669.00,339.50L669.00,339.50L669.50,339.50L669.50,339.50L670.00,339.50L670.00,339.50L670.50,339.50L670.50,339.50L671.00,339.50L671.00,339.50L671.50,339.50L671.50,339.50L672.00,339.50L672.00,339.50L672.50,339.50L672.50,339.50L673.00,339.50L673.00,339.50L673.50,339.50L673.50,339.50L674.00,339.50L674.00,339.50L674.50,339.50L674.50,339.50L675.00,339.50L675.00,339.50L675.50,339.50L675.5,340.1Z" fill="#e6c832"/>
<rect x="265.2" y="343.1" width="0.8" height="5.5" fill="#ec2f3a"/>
<rect x="328.5" y="343.1" width="0.8" height="5.5" fill="#ec2f3a"/>
<rect x="337.9" y="343.1" width="0.8" height="5.5" fill="#ec2f3a"/>
<rect x="339.2" y="343.1" width="0.8" height="5.5" fill="#ec2f3a"/>
<rect x="340.4" y="343.1" width="0.8" height="5.5" fill="#ec2f3a"/>
<rect x="341.6" y="343.1" width="0.8" height="5.5" fill="#ec2f3a"/>
<rect x="344.0" y="343.1" width="0.8" height="5.5" fill="#ec2f3a"/>
<rect x="352.9" y="343.1" width="0.8" height="5.5" fill="#ec2f3a"/>
<rect x="363.0" y="343.1" width="0.8" height="5.5" fill="#ec2f3a"/>
<rect x="501.6" y="343.1" width="0.8" height="5.5" fill="#ec2f3a"/>
<rect x="531.85" y="343.9" width="0.9" height="5.6" fill="#ec2f3a"/>
<rect x="535.75" y="343.9" width="0.9" height="5.6" fill="#ec2f3a"/>
<rect x="543.05" y="343.9" width="0.9" height="5.6" fill="#ec2f3a"/>
<rect x="543.95" y="343.9" width="0.9" height="5.6" fill="#ec2f3a"/>
<rect x="544.95" y="343.9" width="0.9" height="5.6" fill="#ec2f3a"/>
<rect x="547.65" y="343.9" width="0.9" height="5.6" fill="#ec2f3a"/>
<rect x="548.55" y="343.9" width="0.9" height="5.6" fill="#ec2f3a"/>
<rect x="549.85" y="343.9" width="0.9" height="5.6" fill="#ec2f3a"/>
<rect x="552.75" y="343.9" width="0.9" height="5.6" fill="#ec2f3a"/>
<rect x="553.75" y="343.9" width="0.9" height="5.6" fill="#ec2f3a"/>
<rect x="554.75" y="343.9" width="0.9" height="5.6" fill="#ec2f3a"/>
<rect x="555.55" y="343.9" width="0.9" height="5.6" fill="#ec2f3a"/>
<rect x="562.05" y="343.9" width="0.9" height="5.6" fill="#ec2f3a"/>
<rect x="573.95" y="343.9" width="0.9" height="5.6" fill="#ec2f3a"/>
<rect x="579.65" y="343.9" width="0.9" height="5.6" fill="#ec2f3a"/>
<rect x="581.35" y="343.9" width="0.9" height="5.6" fill="#ec2f3a"/>
<rect x="583.35" y="343.9" width="0.9" height="5.6" fill="#ec2f3a"/>
<rect x="585.95" y="343.9" width="0.9" height="5.6" fill="#ec2f3a"/>
<rect x="587.95" y="343.9" width="0.9" height="5.6" fill="#ec2f3a"/>
<rect x="593.85" y="343.9" width="0.9" height="5.6" fill="#ec2f3a"/>
<rect x="594.95" y="343.9" width="0.9" height="5.6" fill="#ec2f3a"/>
<rect x="599.15" y="343.9" width="0.9" height="5.6" fill="#ec2f3a"/>
<rect x="600.45" y="343.9" width="0.9" height="5.6" fill="#ec2f3a"/>
<rect x="605.05" y="343.9" width="0.9" height="5.6" fill="#ec2f3a"/>
<rect x="249.6" y="355.4" width="164.9" height="1.4" fill="#8a8af4"/>
<ellipse cx="260.1" cy="355.9" rx="1.1" ry="3.7" fill="#2a22e0"/>
<rect x="276.2" y="353.9" width="1.4" height="4.1" rx="0.6" fill="#2a22e0"/>
<rect x="293.0" y="353.9" width="5.6" height="4.3" rx="1.2" fill="#2a22e0"/>
<rect x="268.7" y="355.0" width="1.2" height="2.2" fill="#2a22e0"/>
<rect x="284.5" y="355.0" width="1.2" height="2.2" fill="#2a22e0"/>
<rect x="311.4" y="355.0" width="1.2" height="2.2" fill="#2a22e0"/>
<rect x="324.8" y="355.0" width="1.2" height="2.2" fill="#2a22e0"/>
<rect x="338.6" y="355.0" width="1.2" height="2.2" fill="#2a22e0"/>
<rect x="351.9" y="355.0" width="1.2" height="2.2" fill="#2a22e0"/>
<rect x="365.8" y="355.0" width="1.2" height="2.2" fill="#2a22e0"/>
<rect x="379.1" y="355.0" width="1.2" height="2.2" fill="#2a22e0"/>
<rect x="392.5" y="355.0" width="1.2" height="2.2" fill="#2a22e0"/>
<rect x="406.0" y="355.0" width="1.2" height="2.2" fill="#2a22e0"/>
<rect x="414.0" y="353.7" width="0.9" height="4.2" fill="#2a22e0"/>
<text stroke="#000" stroke-width="0.18" x="419.4" y="359.3" font-size="8.2" font-family="Liberation Serif">BCL6</text>
<rect x="529.1" y="356.6" width="146" height="1.4" fill="#4a40e0"/>
<rect x="530.5" y="355.9" width="0.7" height="2.8" fill="#6a62ea"/>
<rect x="533.0" y="355.9" width="0.7" height="2.8" fill="#6a62ea"/>
<rect x="535.5" y="355.9" width="0.7" height="2.8" fill="#6a62ea"/>
<rect x="537.9" y="355.9" width="0.7" height="2.8" fill="#6a62ea"/>
<rect x="540.4" y="355.9" width="0.7" height="2.8" fill="#6a62ea"/>
<rect x="542.9" y="355.9" width="0.7" height="2.8" fill="#6a62ea"/>
<rect x="545.4" y="355.9" width="0.7" height="2.8" fill="#6a62ea"/>
<rect x="547.9" y="355.9" width="0.7" height="2.8" fill="#6a62ea"/>
<rect x="550.3" y="355.9" width="0.7" height="2.8" fill="#6a62ea"/>
<rect x="552.8" y="355.9" width="0.7" height="2.8" fill="#6a62ea"/>
<rect x="555.3" y="355.9" width="0.7" height="2.8" fill="#6a62ea"/>
<rect x="557.8" y="355.9" width="0.7" height="2.8" fill="#6a62ea"/>
<rect x="560.3" y="355.9" width="0.7" height="2.8" fill="#6a62ea"/>
<rect x="562.7" y="355.9" width="0.7" height="2.8" fill="#6a62ea"/>
<rect x="565.2" y="355.9" width="0.7" height="2.8" fill="#6a62ea"/>
<rect x="567.7" y="355.9" width="0.7" height="2.8" fill="#6a62ea"/>
<rect x="570.2" y="355.9" width="0.7" height="2.8" fill="#6a62ea"/>
<rect x="572.7" y="355.9" width="0.7" height="2.8" fill="#6a62ea"/>
<rect x="575.1" y="355.9" width="0.7" height="2.8" fill="#6a62ea"/>
<rect x="577.6" y="355.9" width="0.7" height="2.8" fill="#6a62ea"/>
<rect x="580.1" y="355.9" width="0.7" height="2.8" fill="#6a62ea"/>
<rect x="582.6" y="355.9" width="0.7" height="2.8" fill="#6a62ea"/>
<rect x="585.1" y="355.9" width="0.7" height="2.8" fill="#6a62ea"/>
<rect x="587.5" y="355.9" width="0.7" height="2.8" fill="#6a62ea"/>
<rect x="590.0" y="355.9" width="0.7" height="2.8" fill="#6a62ea"/>
<rect x="592.5" y="355.9" width="0.7" height="2.8" fill="#6a62ea"/>
<rect x="595.0" y="355.9" width="0.7" height="2.8" fill="#6a62ea"/>
<rect x="597.5" y="355.9" width="0.7" height="2.8" fill="#6a62ea"/>
<rect x="599.9" y="355.9" width="0.7" height="2.8" fill="#6a62ea"/>
<rect x="602.4" y="355.9" width="0.7" height="2.8" fill="#6a62ea"/>
<rect x="604.9" y="355.9" width="0.7" height="2.8" fill="#6a62ea"/>
<rect x="607.4" y="355.9" width="0.7" height="2.8" fill="#6a62ea"/>
<rect x="609.9" y="355.9" width="0.7" height="2.8" fill="#6a62ea"/>
<rect x="612.3" y="355.9" width="0.7" height="2.8" fill="#6a62ea"/>
<rect x="614.8" y="355.9" width="0.7" height="2.8" fill="#6a62ea"/>
<rect x="617.3" y="355.9" width="0.7" height="2.8" fill="#6a62ea"/>
<rect x="619.8" y="355.9" width="0.7" height="2.8" fill="#6a62ea"/>
<rect x="622.3" y="355.9" width="0.7" height="2.8" fill="#6a62ea"/>
<rect x="624.7" y="355.9" width="0.7" height="2.8" fill="#6a62ea"/>
<rect x="627.2" y="355.9" width="0.7" height="2.8" fill="#6a62ea"/>
<rect x="629.7" y="355.9" width="0.7" height="2.8" fill="#6a62ea"/>
<rect x="632.2" y="355.9" width="0.7" height="2.8" fill="#6a62ea"/>
<rect x="634.7" y="355.9" width="0.7" height="2.8" fill="#6a62ea"/>
<rect x="637.1" y="355.9" width="0.7" height="2.8" fill="#6a62ea"/>
<rect x="639.6" y="355.9" width="0.7" height="2.8" fill="#6a62ea"/>
<rect x="642.1" y="355.9" width="0.7" height="2.8" fill="#6a62ea"/>
<rect x="644.6" y="355.9" width="0.7" height="2.8" fill="#6a62ea"/>
<rect x="647.1" y="355.9" width="0.7" height="2.8" fill="#6a62ea"/>
<rect x="649.5" y="355.9" width="0.7" height="2.8" fill="#6a62ea"/>
<rect x="652.0" y="355.9" width="0.7" height="2.8" fill="#6a62ea"/>
<rect x="654.5" y="355.9" width="0.7" height="2.8" fill="#6a62ea"/>
<rect x="657.0" y="355.9" width="0.7" height="2.8" fill="#6a62ea"/>
<rect x="659.5" y="355.9" width="0.7" height="2.8" fill="#6a62ea"/>
<rect x="661.9" y="355.9" width="0.7" height="2.8" fill="#6a62ea"/>
<rect x="664.4" y="355.9" width="0.7" height="2.8" fill="#6a62ea"/>
<rect x="666.9" y="355.9" width="0.7" height="2.8" fill="#6a62ea"/>
<rect x="669.4" y="355.9" width="0.7" height="2.8" fill="#6a62ea"/>
<rect x="671.9" y="355.9" width="0.7" height="2.8" fill="#6a62ea"/>
<rect x="674.3" y="355.9" width="0.7" height="2.8" fill="#6a62ea"/>
<text stroke="#000" stroke-width="0.18" x="649.0" y="353.0" font-size="8.2" font-family="Liberation Serif">IGHM</text>
</svg></body></html>
